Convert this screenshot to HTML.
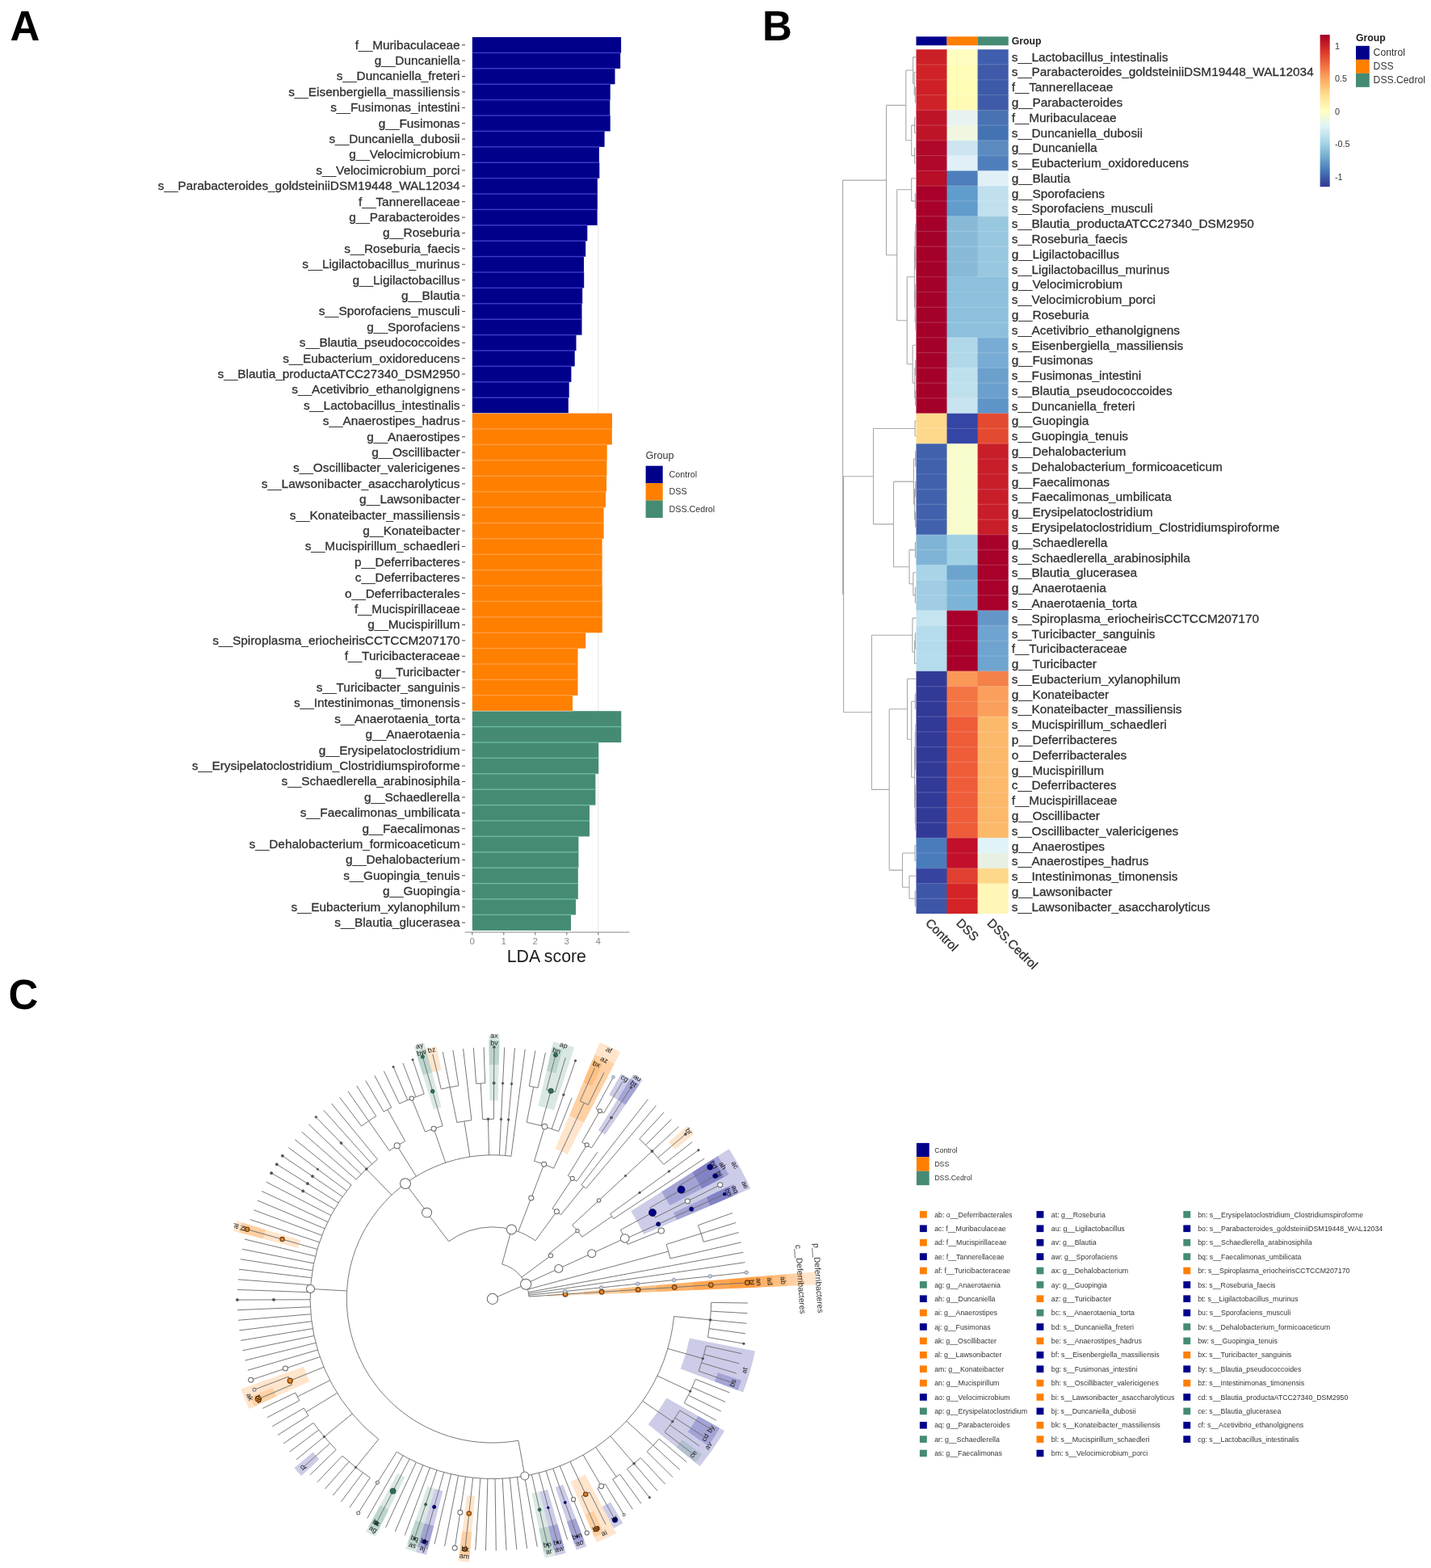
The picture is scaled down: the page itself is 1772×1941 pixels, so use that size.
<!DOCTYPE html>
<html><head><meta charset="utf-8"><title>Figure</title><style>
html,body{margin:0;padding:0;background:#fff;}
body{width:1772px;height:1941px;overflow:hidden;}
svg{display:block;}
#wrap{width:1772px;height:1941px;}
text{font-family:"Liberation Sans",Arial,sans-serif;}
.al{font-size:15.35px;fill:#303030;stroke:#303030;stroke-width:0.3px;}
.at{font-size:11.5px;fill:#8a8a8a;}
.atitle{font-size:21.3px;fill:#1a1a1a;}
.alegt{font-size:12.6px;fill:#333;}
.aleg{font-size:10.7px;fill:#333;}
.bgrp{font-size:12.2px;font-weight:bold;fill:#222;}
.bgrp2{font-size:12.3px;font-weight:bold;fill:#222;}
.bleg{font-size:10.8px;fill:#333;}
.bleg2{font-size:12.2px;fill:#333;}
.bcol{font-size:15.35px;fill:#303030;stroke:#303030;stroke-width:0.3px;}
.plet{font-size:51px;font-weight:bold;fill:#000;}
.cleg{font-size:8.8px;fill:#333;}
.clab{font-size:10.3px;fill:#333;}
.cnl{font-size:8.8px;fill:#151515;}
</style></head>
<body><div id="wrap"><svg xmlns="http://www.w3.org/2000/svg" width="1772" height="1941" viewBox="0 0 1772 1941">
<rect width="1772" height="1941" fill="#fff"/>
<g id="panelA">
<line x1="740.8" y1="44.0" x2="740.8" y2="1153" stroke="#e6e6e6" stroke-width="1"/>
<rect x="584.8" y="46.00" width="184.3" height="19.45" fill="#00008B"/>
<rect x="584.8" y="65.40" width="183.4" height="19.45" fill="#00008B"/>
<rect x="584.8" y="84.80" width="176.7" height="19.45" fill="#00008B"/>
<rect x="584.8" y="104.20" width="170.9" height="19.45" fill="#00008B"/>
<rect x="584.8" y="123.60" width="170.5" height="19.45" fill="#00008B"/>
<rect x="584.8" y="143.00" width="170.9" height="19.45" fill="#00008B"/>
<rect x="584.8" y="162.40" width="163.8" height="19.45" fill="#00008B"/>
<rect x="584.8" y="181.80" width="157.1" height="19.45" fill="#00008B"/>
<rect x="584.8" y="201.20" width="157.5" height="19.45" fill="#00008B"/>
<rect x="584.8" y="220.60" width="155.0" height="19.45" fill="#00008B"/>
<rect x="584.8" y="240.00" width="155.0" height="19.45" fill="#00008B"/>
<rect x="584.8" y="259.40" width="154.8" height="19.45" fill="#00008B"/>
<rect x="584.8" y="278.80" width="142.5" height="19.45" fill="#00008B"/>
<rect x="584.8" y="298.20" width="140.4" height="19.45" fill="#00008B"/>
<rect x="584.8" y="317.60" width="138.2" height="19.45" fill="#00008B"/>
<rect x="584.8" y="337.00" width="138.4" height="19.45" fill="#00008B"/>
<rect x="584.8" y="356.40" width="136.4" height="19.45" fill="#00008B"/>
<rect x="584.8" y="375.80" width="135.7" height="19.45" fill="#00008B"/>
<rect x="584.8" y="395.20" width="135.7" height="19.45" fill="#00008B"/>
<rect x="584.8" y="414.60" width="128.7" height="19.45" fill="#00008B"/>
<rect x="584.8" y="434.00" width="126.9" height="19.45" fill="#00008B"/>
<rect x="584.8" y="453.40" width="122.6" height="19.45" fill="#00008B"/>
<rect x="584.8" y="472.80" width="119.9" height="19.45" fill="#00008B"/>
<rect x="584.8" y="492.20" width="119.0" height="19.45" fill="#00008B"/>
<rect x="584.8" y="511.60" width="173.2" height="19.45" fill="#FF7F00"/>
<rect x="584.8" y="531.00" width="173.0" height="19.45" fill="#FF7F00"/>
<rect x="584.8" y="550.40" width="166.9" height="19.45" fill="#FF7F00"/>
<rect x="584.8" y="569.80" width="166.6" height="19.45" fill="#FF7F00"/>
<rect x="584.8" y="589.20" width="166.2" height="19.45" fill="#FF7F00"/>
<rect x="584.8" y="608.60" width="165.2" height="19.45" fill="#FF7F00"/>
<rect x="584.8" y="628.00" width="162.8" height="19.45" fill="#FF7F00"/>
<rect x="584.8" y="647.40" width="162.8" height="19.45" fill="#FF7F00"/>
<rect x="584.8" y="666.80" width="160.8" height="19.45" fill="#FF7F00"/>
<rect x="584.8" y="686.20" width="160.8" height="19.45" fill="#FF7F00"/>
<rect x="584.8" y="705.60" width="160.8" height="19.45" fill="#FF7F00"/>
<rect x="584.8" y="725.00" width="161.0" height="19.45" fill="#FF7F00"/>
<rect x="584.8" y="744.40" width="161.0" height="19.45" fill="#FF7F00"/>
<rect x="584.8" y="763.80" width="161.0" height="19.45" fill="#FF7F00"/>
<rect x="584.8" y="783.20" width="140.4" height="19.45" fill="#FF7F00"/>
<rect x="584.8" y="802.60" width="130.7" height="19.45" fill="#FF7F00"/>
<rect x="584.8" y="822.00" width="130.7" height="19.45" fill="#FF7F00"/>
<rect x="584.8" y="841.40" width="130.7" height="19.45" fill="#FF7F00"/>
<rect x="584.8" y="860.80" width="124.2" height="19.45" fill="#FF7F00"/>
<rect x="584.8" y="880.20" width="184.5" height="19.45" fill="#458B74"/>
<rect x="584.8" y="899.60" width="184.5" height="19.45" fill="#458B74"/>
<rect x="584.8" y="919.00" width="156.4" height="19.45" fill="#458B74"/>
<rect x="584.8" y="938.40" width="156.4" height="19.45" fill="#458B74"/>
<rect x="584.8" y="957.80" width="152.6" height="19.45" fill="#458B74"/>
<rect x="584.8" y="977.20" width="152.6" height="19.45" fill="#458B74"/>
<rect x="584.8" y="996.60" width="145.2" height="19.45" fill="#458B74"/>
<rect x="584.8" y="1016.00" width="145.2" height="19.45" fill="#458B74"/>
<rect x="584.8" y="1035.40" width="131.6" height="19.45" fill="#458B74"/>
<rect x="584.8" y="1054.80" width="131.6" height="19.45" fill="#458B74"/>
<rect x="584.8" y="1074.20" width="131.0" height="19.45" fill="#458B74"/>
<rect x="584.8" y="1093.60" width="131.0" height="19.45" fill="#458B74"/>
<rect x="584.8" y="1113.00" width="128.2" height="19.45" fill="#458B74"/>
<rect x="584.8" y="1132.40" width="122.2" height="19.45" fill="#458B74"/>
<rect x="584.8" y="64.70" width="183.4" height="1.4" fill="#3c3cc8"/>
<rect x="584.8" y="84.10" width="176.7" height="1.4" fill="#3c3cc8"/>
<rect x="584.8" y="103.50" width="170.9" height="1.4" fill="#3c3cc8"/>
<rect x="584.8" y="122.90" width="170.5" height="1.4" fill="#3c3cc8"/>
<rect x="584.8" y="142.30" width="170.5" height="1.4" fill="#3c3cc8"/>
<rect x="584.8" y="161.70" width="163.8" height="1.4" fill="#3c3cc8"/>
<rect x="584.8" y="181.10" width="157.1" height="1.4" fill="#3c3cc8"/>
<rect x="584.8" y="200.50" width="157.1" height="1.4" fill="#3c3cc8"/>
<rect x="584.8" y="219.90" width="155.0" height="1.4" fill="#3c3cc8"/>
<rect x="584.8" y="239.30" width="155.0" height="1.4" fill="#3c3cc8"/>
<rect x="584.8" y="258.70" width="154.8" height="1.4" fill="#3c3cc8"/>
<rect x="584.8" y="278.10" width="142.5" height="1.4" fill="#3c3cc8"/>
<rect x="584.8" y="297.50" width="140.4" height="1.4" fill="#3c3cc8"/>
<rect x="584.8" y="316.90" width="138.2" height="1.4" fill="#3c3cc8"/>
<rect x="584.8" y="336.30" width="138.2" height="1.4" fill="#3c3cc8"/>
<rect x="584.8" y="355.70" width="136.4" height="1.4" fill="#3c3cc8"/>
<rect x="584.8" y="375.10" width="135.7" height="1.4" fill="#3c3cc8"/>
<rect x="584.8" y="394.50" width="135.7" height="1.4" fill="#3c3cc8"/>
<rect x="584.8" y="413.90" width="128.7" height="1.4" fill="#3c3cc8"/>
<rect x="584.8" y="433.30" width="126.9" height="1.4" fill="#3c3cc8"/>
<rect x="584.8" y="452.70" width="122.6" height="1.4" fill="#3c3cc8"/>
<rect x="584.8" y="472.10" width="119.9" height="1.4" fill="#3c3cc8"/>
<rect x="584.8" y="491.50" width="119.0" height="1.4" fill="#3c3cc8"/>
<rect x="584.8" y="511.10" width="119.0" height="1.0" fill="#ffffff" fill-opacity="0.45"/>
<rect x="584.8" y="530.30" width="173.0" height="1.4" fill="#ff9c3c"/>
<rect x="584.8" y="549.70" width="166.9" height="1.4" fill="#ff9c3c"/>
<rect x="584.8" y="569.10" width="166.6" height="1.4" fill="#ff9c3c"/>
<rect x="584.8" y="588.50" width="166.2" height="1.4" fill="#ff9c3c"/>
<rect x="584.8" y="607.90" width="165.2" height="1.4" fill="#ff9c3c"/>
<rect x="584.8" y="627.30" width="162.8" height="1.4" fill="#ff9c3c"/>
<rect x="584.8" y="646.70" width="162.8" height="1.4" fill="#ff9c3c"/>
<rect x="584.8" y="666.10" width="160.8" height="1.4" fill="#ff9c3c"/>
<rect x="584.8" y="685.50" width="160.8" height="1.4" fill="#ff9c3c"/>
<rect x="584.8" y="704.90" width="160.8" height="1.4" fill="#ff9c3c"/>
<rect x="584.8" y="724.30" width="160.8" height="1.4" fill="#ff9c3c"/>
<rect x="584.8" y="743.70" width="161.0" height="1.4" fill="#ff9c3c"/>
<rect x="584.8" y="763.10" width="161.0" height="1.4" fill="#ff9c3c"/>
<rect x="584.8" y="782.50" width="140.4" height="1.4" fill="#ff9c3c"/>
<rect x="584.8" y="801.90" width="130.7" height="1.4" fill="#ff9c3c"/>
<rect x="584.8" y="821.30" width="130.7" height="1.4" fill="#ff9c3c"/>
<rect x="584.8" y="840.70" width="130.7" height="1.4" fill="#ff9c3c"/>
<rect x="584.8" y="860.10" width="124.2" height="1.4" fill="#ff9c3c"/>
<rect x="584.8" y="879.70" width="124.2" height="1.0" fill="#ffffff" fill-opacity="0.45"/>
<rect x="584.8" y="898.90" width="184.5" height="1.4" fill="#6cb8a0"/>
<rect x="584.8" y="918.30" width="156.4" height="1.4" fill="#6cb8a0"/>
<rect x="584.8" y="937.70" width="156.4" height="1.4" fill="#6cb8a0"/>
<rect x="584.8" y="957.10" width="152.6" height="1.4" fill="#6cb8a0"/>
<rect x="584.8" y="976.50" width="152.6" height="1.4" fill="#6cb8a0"/>
<rect x="584.8" y="995.90" width="145.2" height="1.4" fill="#6cb8a0"/>
<rect x="584.8" y="1015.30" width="145.2" height="1.4" fill="#6cb8a0"/>
<rect x="584.8" y="1034.70" width="131.6" height="1.4" fill="#6cb8a0"/>
<rect x="584.8" y="1054.10" width="131.6" height="1.4" fill="#6cb8a0"/>
<rect x="584.8" y="1073.50" width="131.0" height="1.4" fill="#6cb8a0"/>
<rect x="584.8" y="1092.90" width="131.0" height="1.4" fill="#6cb8a0"/>
<rect x="584.8" y="1112.30" width="128.2" height="1.4" fill="#6cb8a0"/>
<rect x="584.8" y="1131.70" width="122.2" height="1.4" fill="#6cb8a0"/>
<text x="569.5" y="60.50" text-anchor="end" class="al">f__Muribaculaceae</text>
<line x1="572" y1="55.70" x2="576" y2="55.70" stroke="#555" stroke-width="1.1"/>
<text x="569.5" y="79.90" text-anchor="end" class="al">g__Duncaniella</text>
<line x1="572" y1="75.10" x2="576" y2="75.10" stroke="#555" stroke-width="1.1"/>
<text x="569.5" y="99.30" text-anchor="end" class="al">s__Duncaniella_freteri</text>
<line x1="572" y1="94.50" x2="576" y2="94.50" stroke="#555" stroke-width="1.1"/>
<text x="569.5" y="118.70" text-anchor="end" class="al">s__Eisenbergiella_massiliensis</text>
<line x1="572" y1="113.90" x2="576" y2="113.90" stroke="#555" stroke-width="1.1"/>
<text x="569.5" y="138.10" text-anchor="end" class="al">s__Fusimonas_intestini</text>
<line x1="572" y1="133.30" x2="576" y2="133.30" stroke="#555" stroke-width="1.1"/>
<text x="569.5" y="157.50" text-anchor="end" class="al">g__Fusimonas</text>
<line x1="572" y1="152.70" x2="576" y2="152.70" stroke="#555" stroke-width="1.1"/>
<text x="569.5" y="176.90" text-anchor="end" class="al">s__Duncaniella_dubosii</text>
<line x1="572" y1="172.10" x2="576" y2="172.10" stroke="#555" stroke-width="1.1"/>
<text x="569.5" y="196.30" text-anchor="end" class="al">g__Velocimicrobium</text>
<line x1="572" y1="191.50" x2="576" y2="191.50" stroke="#555" stroke-width="1.1"/>
<text x="569.5" y="215.70" text-anchor="end" class="al">s__Velocimicrobium_porci</text>
<line x1="572" y1="210.90" x2="576" y2="210.90" stroke="#555" stroke-width="1.1"/>
<text x="569.5" y="235.10" text-anchor="end" class="al">s__Parabacteroides_goldsteiniiDSM19448_WAL12034</text>
<line x1="572" y1="230.30" x2="576" y2="230.30" stroke="#555" stroke-width="1.1"/>
<text x="569.5" y="254.50" text-anchor="end" class="al">f__Tannerellaceae</text>
<line x1="572" y1="249.70" x2="576" y2="249.70" stroke="#555" stroke-width="1.1"/>
<text x="569.5" y="273.90" text-anchor="end" class="al">g__Parabacteroides</text>
<line x1="572" y1="269.10" x2="576" y2="269.10" stroke="#555" stroke-width="1.1"/>
<text x="569.5" y="293.30" text-anchor="end" class="al">g__Roseburia</text>
<line x1="572" y1="288.50" x2="576" y2="288.50" stroke="#555" stroke-width="1.1"/>
<text x="569.5" y="312.70" text-anchor="end" class="al">s__Roseburia_faecis</text>
<line x1="572" y1="307.90" x2="576" y2="307.90" stroke="#555" stroke-width="1.1"/>
<text x="569.5" y="332.10" text-anchor="end" class="al">s__Ligilactobacillus_murinus</text>
<line x1="572" y1="327.30" x2="576" y2="327.30" stroke="#555" stroke-width="1.1"/>
<text x="569.5" y="351.50" text-anchor="end" class="al">g__Ligilactobacillus</text>
<line x1="572" y1="346.70" x2="576" y2="346.70" stroke="#555" stroke-width="1.1"/>
<text x="569.5" y="370.90" text-anchor="end" class="al">g__Blautia</text>
<line x1="572" y1="366.10" x2="576" y2="366.10" stroke="#555" stroke-width="1.1"/>
<text x="569.5" y="390.30" text-anchor="end" class="al">s__Sporofaciens_musculi</text>
<line x1="572" y1="385.50" x2="576" y2="385.50" stroke="#555" stroke-width="1.1"/>
<text x="569.5" y="409.70" text-anchor="end" class="al">g__Sporofaciens</text>
<line x1="572" y1="404.90" x2="576" y2="404.90" stroke="#555" stroke-width="1.1"/>
<text x="569.5" y="429.10" text-anchor="end" class="al">s__Blautia_pseudococcoides</text>
<line x1="572" y1="424.30" x2="576" y2="424.30" stroke="#555" stroke-width="1.1"/>
<text x="569.5" y="448.50" text-anchor="end" class="al">s__Eubacterium_oxidoreducens</text>
<line x1="572" y1="443.70" x2="576" y2="443.70" stroke="#555" stroke-width="1.1"/>
<text x="569.5" y="467.90" text-anchor="end" class="al">s__Blautia_productaATCC27340_DSM2950</text>
<line x1="572" y1="463.10" x2="576" y2="463.10" stroke="#555" stroke-width="1.1"/>
<text x="569.5" y="487.30" text-anchor="end" class="al">s__Acetivibrio_ethanolgignens</text>
<line x1="572" y1="482.50" x2="576" y2="482.50" stroke="#555" stroke-width="1.1"/>
<text x="569.5" y="506.70" text-anchor="end" class="al">s__Lactobacillus_intestinalis</text>
<line x1="572" y1="501.90" x2="576" y2="501.90" stroke="#555" stroke-width="1.1"/>
<text x="569.5" y="526.10" text-anchor="end" class="al">s__Anaerostipes_hadrus</text>
<line x1="572" y1="521.30" x2="576" y2="521.30" stroke="#555" stroke-width="1.1"/>
<text x="569.5" y="545.50" text-anchor="end" class="al">g__Anaerostipes</text>
<line x1="572" y1="540.70" x2="576" y2="540.70" stroke="#555" stroke-width="1.1"/>
<text x="569.5" y="564.90" text-anchor="end" class="al">g__Oscillibacter</text>
<line x1="572" y1="560.10" x2="576" y2="560.10" stroke="#555" stroke-width="1.1"/>
<text x="569.5" y="584.30" text-anchor="end" class="al">s__Oscillibacter_valericigenes</text>
<line x1="572" y1="579.50" x2="576" y2="579.50" stroke="#555" stroke-width="1.1"/>
<text x="569.5" y="603.70" text-anchor="end" class="al">s__Lawsonibacter_asaccharolyticus</text>
<line x1="572" y1="598.90" x2="576" y2="598.90" stroke="#555" stroke-width="1.1"/>
<text x="569.5" y="623.10" text-anchor="end" class="al">g__Lawsonibacter</text>
<line x1="572" y1="618.30" x2="576" y2="618.30" stroke="#555" stroke-width="1.1"/>
<text x="569.5" y="642.50" text-anchor="end" class="al">s__Konateibacter_massiliensis</text>
<line x1="572" y1="637.70" x2="576" y2="637.70" stroke="#555" stroke-width="1.1"/>
<text x="569.5" y="661.90" text-anchor="end" class="al">g__Konateibacter</text>
<line x1="572" y1="657.10" x2="576" y2="657.10" stroke="#555" stroke-width="1.1"/>
<text x="569.5" y="681.30" text-anchor="end" class="al">s__Mucispirillum_schaedleri</text>
<line x1="572" y1="676.50" x2="576" y2="676.50" stroke="#555" stroke-width="1.1"/>
<text x="569.5" y="700.70" text-anchor="end" class="al">p__Deferribacteres</text>
<line x1="572" y1="695.90" x2="576" y2="695.90" stroke="#555" stroke-width="1.1"/>
<text x="569.5" y="720.10" text-anchor="end" class="al">c__Deferribacteres</text>
<line x1="572" y1="715.30" x2="576" y2="715.30" stroke="#555" stroke-width="1.1"/>
<text x="569.5" y="739.50" text-anchor="end" class="al">o__Deferribacterales</text>
<line x1="572" y1="734.70" x2="576" y2="734.70" stroke="#555" stroke-width="1.1"/>
<text x="569.5" y="758.90" text-anchor="end" class="al">f__Mucispirillaceae</text>
<line x1="572" y1="754.10" x2="576" y2="754.10" stroke="#555" stroke-width="1.1"/>
<text x="569.5" y="778.30" text-anchor="end" class="al">g__Mucispirillum</text>
<line x1="572" y1="773.50" x2="576" y2="773.50" stroke="#555" stroke-width="1.1"/>
<text x="569.5" y="797.70" text-anchor="end" class="al">s__Spiroplasma_eriocheirisCCTCCM207170</text>
<line x1="572" y1="792.90" x2="576" y2="792.90" stroke="#555" stroke-width="1.1"/>
<text x="569.5" y="817.10" text-anchor="end" class="al">f__Turicibacteraceae</text>
<line x1="572" y1="812.30" x2="576" y2="812.30" stroke="#555" stroke-width="1.1"/>
<text x="569.5" y="836.50" text-anchor="end" class="al">g__Turicibacter</text>
<line x1="572" y1="831.70" x2="576" y2="831.70" stroke="#555" stroke-width="1.1"/>
<text x="569.5" y="855.90" text-anchor="end" class="al">s__Turicibacter_sanguinis</text>
<line x1="572" y1="851.10" x2="576" y2="851.10" stroke="#555" stroke-width="1.1"/>
<text x="569.5" y="875.30" text-anchor="end" class="al">s__Intestinimonas_timonensis</text>
<line x1="572" y1="870.50" x2="576" y2="870.50" stroke="#555" stroke-width="1.1"/>
<text x="569.5" y="894.70" text-anchor="end" class="al">s__Anaerotaenia_torta</text>
<line x1="572" y1="889.90" x2="576" y2="889.90" stroke="#555" stroke-width="1.1"/>
<text x="569.5" y="914.10" text-anchor="end" class="al">g__Anaerotaenia</text>
<line x1="572" y1="909.30" x2="576" y2="909.30" stroke="#555" stroke-width="1.1"/>
<text x="569.5" y="933.50" text-anchor="end" class="al">g__Erysipelatoclostridium</text>
<line x1="572" y1="928.70" x2="576" y2="928.70" stroke="#555" stroke-width="1.1"/>
<text x="569.5" y="952.90" text-anchor="end" class="al">s__Erysipelatoclostridium_Clostridiumspiroforme</text>
<line x1="572" y1="948.10" x2="576" y2="948.10" stroke="#555" stroke-width="1.1"/>
<text x="569.5" y="972.30" text-anchor="end" class="al">s__Schaedlerella_arabinosiphila</text>
<line x1="572" y1="967.50" x2="576" y2="967.50" stroke="#555" stroke-width="1.1"/>
<text x="569.5" y="991.70" text-anchor="end" class="al">g__Schaedlerella</text>
<line x1="572" y1="986.90" x2="576" y2="986.90" stroke="#555" stroke-width="1.1"/>
<text x="569.5" y="1011.10" text-anchor="end" class="al">s__Faecalimonas_umbilicata</text>
<line x1="572" y1="1006.30" x2="576" y2="1006.30" stroke="#555" stroke-width="1.1"/>
<text x="569.5" y="1030.50" text-anchor="end" class="al">g__Faecalimonas</text>
<line x1="572" y1="1025.70" x2="576" y2="1025.70" stroke="#555" stroke-width="1.1"/>
<text x="569.5" y="1049.90" text-anchor="end" class="al">s__Dehalobacterium_formicoaceticum</text>
<line x1="572" y1="1045.10" x2="576" y2="1045.10" stroke="#555" stroke-width="1.1"/>
<text x="569.5" y="1069.30" text-anchor="end" class="al">g__Dehalobacterium</text>
<line x1="572" y1="1064.50" x2="576" y2="1064.50" stroke="#555" stroke-width="1.1"/>
<text x="569.5" y="1088.70" text-anchor="end" class="al">s__Guopingia_tenuis</text>
<line x1="572" y1="1083.90" x2="576" y2="1083.90" stroke="#555" stroke-width="1.1"/>
<text x="569.5" y="1108.10" text-anchor="end" class="al">g__Guopingia</text>
<line x1="572" y1="1103.30" x2="576" y2="1103.30" stroke="#555" stroke-width="1.1"/>
<text x="569.5" y="1127.50" text-anchor="end" class="al">s__Eubacterium_xylanophilum</text>
<line x1="572" y1="1122.70" x2="576" y2="1122.70" stroke="#555" stroke-width="1.1"/>
<text x="569.5" y="1146.90" text-anchor="end" class="al">s__Blautia_glucerasea</text>
<line x1="572" y1="1142.10" x2="576" y2="1142.10" stroke="#555" stroke-width="1.1"/>
<line x1="575.6" y1="1154" x2="779.5" y2="1154" stroke="#888" stroke-width="1.1"/>
<line x1="584.8" y1="1154" x2="584.8" y2="1157.5" stroke="#777" stroke-width="1.1"/>
<text x="584.8" y="1168.8" text-anchor="middle" class="at">0</text>
<line x1="623.8" y1="1154" x2="623.8" y2="1157.5" stroke="#777" stroke-width="1.1"/>
<text x="623.8" y="1168.8" text-anchor="middle" class="at">1</text>
<line x1="662.8" y1="1154" x2="662.8" y2="1157.5" stroke="#777" stroke-width="1.1"/>
<text x="662.8" y="1168.8" text-anchor="middle" class="at">2</text>
<line x1="701.8" y1="1154" x2="701.8" y2="1157.5" stroke="#777" stroke-width="1.1"/>
<text x="701.8" y="1168.8" text-anchor="middle" class="at">3</text>
<line x1="740.8" y1="1154" x2="740.8" y2="1157.5" stroke="#777" stroke-width="1.1"/>
<text x="740.8" y="1168.8" text-anchor="middle" class="at">4</text>
<text x="676.8" y="1190.5" text-anchor="middle" class="atitle">LDA score</text>
<text x="799.4" y="567.7" class="alegt">Group</text>
<rect x="799.6" y="576.7" width="21.1" height="21.5" fill="#00008B"/>
<text x="828.6" y="590.7" class="aleg">Control</text>
<rect x="799.6" y="598.1" width="21.1" height="21.5" fill="#FF7F00"/>
<text x="828.6" y="612.1" class="aleg">DSS</text>
<rect x="799.6" y="619.5" width="21.1" height="21.5" fill="#458B74"/>
<text x="828.6" y="633.5" class="aleg">DSS.Cedrol</text>
</g>
<g id="panelB">
<rect x="1134.5" y="45.3" width="38.05" height="10.9" fill="#00008B"/>
<rect x="1172.5" y="45.3" width="38.15" height="10.9" fill="#FF7F00"/>
<rect x="1210.6" y="45.3" width="38.15" height="10.9" fill="#458B74"/>
<text x="1252.8" y="55.0" class="bgrp">Group</text>
<rect x="1134.5" y="61.20" width="38.70" height="19.47" fill="#CC2027"/>
<rect x="1172.5" y="61.20" width="38.80" height="19.47" fill="#FFFDC0"/>
<rect x="1210.6" y="61.20" width="38.10" height="19.47" fill="#3F5FAE"/>
<rect x="1134.5" y="79.97" width="38.70" height="19.47" fill="#D02226"/>
<rect x="1172.5" y="79.97" width="38.80" height="19.47" fill="#FFFCB8"/>
<rect x="1210.6" y="79.97" width="38.10" height="19.47" fill="#3E5AA8"/>
<rect x="1134.5" y="98.74" width="38.70" height="19.47" fill="#CE2026"/>
<rect x="1172.5" y="98.74" width="38.80" height="19.47" fill="#FFFCB5"/>
<rect x="1210.6" y="98.74" width="38.10" height="19.47" fill="#3C5AA8"/>
<rect x="1134.5" y="117.51" width="38.70" height="19.47" fill="#CE2228"/>
<rect x="1172.5" y="117.51" width="38.80" height="19.47" fill="#FFFBB5"/>
<rect x="1210.6" y="117.51" width="38.10" height="19.47" fill="#3F5AA8"/>
<rect x="1134.5" y="136.28" width="38.70" height="19.47" fill="#BE1428"/>
<rect x="1172.5" y="136.28" width="38.80" height="19.47" fill="#E8F2F0"/>
<rect x="1210.6" y="136.28" width="38.10" height="19.47" fill="#4872B2"/>
<rect x="1134.5" y="155.05" width="38.70" height="19.47" fill="#BE1428"/>
<rect x="1172.5" y="155.05" width="38.80" height="19.47" fill="#F0F6E0"/>
<rect x="1210.6" y="155.05" width="38.10" height="19.47" fill="#4473B4"/>
<rect x="1134.5" y="173.82" width="38.70" height="19.47" fill="#B0082A"/>
<rect x="1172.5" y="173.82" width="38.80" height="19.47" fill="#CDE5F0"/>
<rect x="1210.6" y="173.82" width="38.10" height="19.47" fill="#5A8AC0"/>
<rect x="1134.5" y="192.59" width="38.70" height="19.47" fill="#B0082A"/>
<rect x="1172.5" y="192.59" width="38.80" height="19.47" fill="#E0F0F6"/>
<rect x="1210.6" y="192.59" width="38.10" height="19.47" fill="#4F7EBC"/>
<rect x="1134.5" y="211.36" width="38.70" height="19.47" fill="#B80E28"/>
<rect x="1172.5" y="211.36" width="38.80" height="19.47" fill="#4E7FBC"/>
<rect x="1210.6" y="211.36" width="38.10" height="19.47" fill="#E0F0F6"/>
<rect x="1134.5" y="230.13" width="38.70" height="19.47" fill="#A8002A"/>
<rect x="1172.5" y="230.13" width="38.80" height="19.47" fill="#609CCC"/>
<rect x="1210.6" y="230.13" width="38.10" height="19.47" fill="#C0E0EE"/>
<rect x="1134.5" y="248.90" width="38.70" height="19.47" fill="#A8002A"/>
<rect x="1172.5" y="248.90" width="38.80" height="19.47" fill="#609CCC"/>
<rect x="1210.6" y="248.90" width="38.10" height="19.47" fill="#C0E0EE"/>
<rect x="1134.5" y="267.67" width="38.70" height="19.47" fill="#A5002A"/>
<rect x="1172.5" y="267.67" width="38.80" height="19.47" fill="#88BAD8"/>
<rect x="1210.6" y="267.67" width="38.10" height="19.47" fill="#98C8E0"/>
<rect x="1134.5" y="286.44" width="38.70" height="19.47" fill="#A5002A"/>
<rect x="1172.5" y="286.44" width="38.80" height="19.47" fill="#88BAD8"/>
<rect x="1210.6" y="286.44" width="38.10" height="19.47" fill="#98C8E0"/>
<rect x="1134.5" y="305.21" width="38.70" height="19.47" fill="#A5002A"/>
<rect x="1172.5" y="305.21" width="38.80" height="19.47" fill="#88BAD8"/>
<rect x="1210.6" y="305.21" width="38.10" height="19.47" fill="#98C8E0"/>
<rect x="1134.5" y="323.98" width="38.70" height="19.47" fill="#A5002A"/>
<rect x="1172.5" y="323.98" width="38.80" height="19.47" fill="#88BAD8"/>
<rect x="1210.6" y="323.98" width="38.10" height="19.47" fill="#98C8E0"/>
<rect x="1134.5" y="342.75" width="38.70" height="19.47" fill="#A5002A"/>
<rect x="1172.5" y="342.75" width="38.80" height="19.47" fill="#8CC0DC"/>
<rect x="1210.6" y="342.75" width="38.10" height="19.47" fill="#8CC0DC"/>
<rect x="1134.5" y="361.52" width="38.70" height="19.47" fill="#A5002A"/>
<rect x="1172.5" y="361.52" width="38.80" height="19.47" fill="#8CC0DC"/>
<rect x="1210.6" y="361.52" width="38.10" height="19.47" fill="#8CC0DC"/>
<rect x="1134.5" y="380.29" width="38.70" height="19.47" fill="#A5002A"/>
<rect x="1172.5" y="380.29" width="38.80" height="19.47" fill="#8CC0DC"/>
<rect x="1210.6" y="380.29" width="38.10" height="19.47" fill="#8CC0DC"/>
<rect x="1134.5" y="399.06" width="38.70" height="19.47" fill="#A5002A"/>
<rect x="1172.5" y="399.06" width="38.80" height="19.47" fill="#8CC0DC"/>
<rect x="1210.6" y="399.06" width="38.10" height="19.47" fill="#8CC0DC"/>
<rect x="1134.5" y="417.83" width="38.70" height="19.47" fill="#A5002A"/>
<rect x="1172.5" y="417.83" width="38.80" height="19.47" fill="#B0D8E8"/>
<rect x="1210.6" y="417.83" width="38.10" height="19.47" fill="#78ACD4"/>
<rect x="1134.5" y="436.60" width="38.70" height="19.47" fill="#A5002A"/>
<rect x="1172.5" y="436.60" width="38.80" height="19.47" fill="#B0D8E8"/>
<rect x="1210.6" y="436.60" width="38.10" height="19.47" fill="#78ACD4"/>
<rect x="1134.5" y="455.37" width="38.70" height="19.47" fill="#A5002A"/>
<rect x="1172.5" y="455.37" width="38.80" height="19.47" fill="#BEE0EC"/>
<rect x="1210.6" y="455.37" width="38.10" height="19.47" fill="#6CA0CC"/>
<rect x="1134.5" y="474.14" width="38.70" height="19.47" fill="#A5002A"/>
<rect x="1172.5" y="474.14" width="38.80" height="19.47" fill="#BEE0EC"/>
<rect x="1210.6" y="474.14" width="38.10" height="19.47" fill="#6CA0CC"/>
<rect x="1134.5" y="492.91" width="38.70" height="19.47" fill="#A5002A"/>
<rect x="1172.5" y="492.91" width="38.80" height="19.47" fill="#C8E4F0"/>
<rect x="1210.6" y="492.91" width="38.10" height="19.47" fill="#5F94C8"/>
<rect x="1134.5" y="511.68" width="38.70" height="19.47" fill="#FED98C"/>
<rect x="1172.5" y="511.68" width="38.80" height="19.47" fill="#3545A5"/>
<rect x="1210.6" y="511.68" width="38.10" height="19.47" fill="#E44A30"/>
<rect x="1134.5" y="530.45" width="38.70" height="19.47" fill="#FED98C"/>
<rect x="1172.5" y="530.45" width="38.80" height="19.47" fill="#3545A5"/>
<rect x="1210.6" y="530.45" width="38.10" height="19.47" fill="#E44A30"/>
<rect x="1134.5" y="549.22" width="38.70" height="19.47" fill="#4161AC"/>
<rect x="1172.5" y="549.22" width="38.80" height="19.47" fill="#F8FBCC"/>
<rect x="1210.6" y="549.22" width="38.10" height="19.47" fill="#C81E2A"/>
<rect x="1134.5" y="567.99" width="38.70" height="19.47" fill="#4161AC"/>
<rect x="1172.5" y="567.99" width="38.80" height="19.47" fill="#F8FBCC"/>
<rect x="1210.6" y="567.99" width="38.10" height="19.47" fill="#C81E2A"/>
<rect x="1134.5" y="586.76" width="38.70" height="19.47" fill="#4161AC"/>
<rect x="1172.5" y="586.76" width="38.80" height="19.47" fill="#F8FBCC"/>
<rect x="1210.6" y="586.76" width="38.10" height="19.47" fill="#C81E2A"/>
<rect x="1134.5" y="605.53" width="38.70" height="19.47" fill="#4161AC"/>
<rect x="1172.5" y="605.53" width="38.80" height="19.47" fill="#F8FBCC"/>
<rect x="1210.6" y="605.53" width="38.10" height="19.47" fill="#C81E2A"/>
<rect x="1134.5" y="624.30" width="38.70" height="19.47" fill="#4161AC"/>
<rect x="1172.5" y="624.30" width="38.80" height="19.47" fill="#F8FBCC"/>
<rect x="1210.6" y="624.30" width="38.10" height="19.47" fill="#C81E2A"/>
<rect x="1134.5" y="643.07" width="38.70" height="19.47" fill="#4161AC"/>
<rect x="1172.5" y="643.07" width="38.80" height="19.47" fill="#F8FBCC"/>
<rect x="1210.6" y="643.07" width="38.10" height="19.47" fill="#C81E2A"/>
<rect x="1134.5" y="661.84" width="38.70" height="19.47" fill="#80B4D6"/>
<rect x="1172.5" y="661.84" width="38.80" height="19.47" fill="#A0D0E4"/>
<rect x="1210.6" y="661.84" width="38.10" height="19.47" fill="#A8022A"/>
<rect x="1134.5" y="680.61" width="38.70" height="19.47" fill="#80B4D6"/>
<rect x="1172.5" y="680.61" width="38.80" height="19.47" fill="#A0D0E4"/>
<rect x="1210.6" y="680.61" width="38.10" height="19.47" fill="#A8022A"/>
<rect x="1134.5" y="699.38" width="38.70" height="19.47" fill="#A8D4E8"/>
<rect x="1172.5" y="699.38" width="38.80" height="19.47" fill="#6CA4CE"/>
<rect x="1210.6" y="699.38" width="38.10" height="19.47" fill="#A8002A"/>
<rect x="1134.5" y="718.15" width="38.70" height="19.47" fill="#A0CCE4"/>
<rect x="1172.5" y="718.15" width="38.80" height="19.47" fill="#7CB4D8"/>
<rect x="1210.6" y="718.15" width="38.10" height="19.47" fill="#A8002A"/>
<rect x="1134.5" y="736.92" width="38.70" height="19.47" fill="#A0CCE4"/>
<rect x="1172.5" y="736.92" width="38.80" height="19.47" fill="#7CB4D8"/>
<rect x="1210.6" y="736.92" width="38.10" height="19.47" fill="#A8002A"/>
<rect x="1134.5" y="755.69" width="38.70" height="19.47" fill="#C4E4F0"/>
<rect x="1172.5" y="755.69" width="38.80" height="19.47" fill="#A8002A"/>
<rect x="1210.6" y="755.69" width="38.10" height="19.47" fill="#6496C8"/>
<rect x="1134.5" y="774.46" width="38.70" height="19.47" fill="#B4DCEC"/>
<rect x="1172.5" y="774.46" width="38.80" height="19.47" fill="#A8002A"/>
<rect x="1210.6" y="774.46" width="38.10" height="19.47" fill="#70A4D0"/>
<rect x="1134.5" y="793.23" width="38.70" height="19.47" fill="#B4DCEC"/>
<rect x="1172.5" y="793.23" width="38.80" height="19.47" fill="#A8002A"/>
<rect x="1210.6" y="793.23" width="38.10" height="19.47" fill="#70A4D0"/>
<rect x="1134.5" y="812.00" width="38.70" height="19.47" fill="#B4DCEC"/>
<rect x="1172.5" y="812.00" width="38.80" height="19.47" fill="#A8002A"/>
<rect x="1210.6" y="812.00" width="38.10" height="19.47" fill="#70A4D0"/>
<rect x="1134.5" y="830.77" width="38.70" height="19.47" fill="#323A98"/>
<rect x="1172.5" y="830.77" width="38.80" height="19.47" fill="#FA9858"/>
<rect x="1210.6" y="830.77" width="38.10" height="19.47" fill="#F4804A"/>
<rect x="1134.5" y="849.54" width="38.70" height="19.47" fill="#323A98"/>
<rect x="1172.5" y="849.54" width="38.80" height="19.47" fill="#F47444"/>
<rect x="1210.6" y="849.54" width="38.10" height="19.47" fill="#FAA05C"/>
<rect x="1134.5" y="868.31" width="38.70" height="19.47" fill="#323A98"/>
<rect x="1172.5" y="868.31" width="38.80" height="19.47" fill="#F47444"/>
<rect x="1210.6" y="868.31" width="38.10" height="19.47" fill="#FAA05C"/>
<rect x="1134.5" y="887.08" width="38.70" height="19.47" fill="#323A98"/>
<rect x="1172.5" y="887.08" width="38.80" height="19.47" fill="#EE5C3A"/>
<rect x="1210.6" y="887.08" width="38.10" height="19.47" fill="#FDB96A"/>
<rect x="1134.5" y="905.85" width="38.70" height="19.47" fill="#323A98"/>
<rect x="1172.5" y="905.85" width="38.80" height="19.47" fill="#EE5C3A"/>
<rect x="1210.6" y="905.85" width="38.10" height="19.47" fill="#FDB96A"/>
<rect x="1134.5" y="924.62" width="38.70" height="19.47" fill="#323A98"/>
<rect x="1172.5" y="924.62" width="38.80" height="19.47" fill="#EE5C3A"/>
<rect x="1210.6" y="924.62" width="38.10" height="19.47" fill="#FDB96A"/>
<rect x="1134.5" y="943.39" width="38.70" height="19.47" fill="#323A98"/>
<rect x="1172.5" y="943.39" width="38.80" height="19.47" fill="#EE5C3A"/>
<rect x="1210.6" y="943.39" width="38.10" height="19.47" fill="#FDB96A"/>
<rect x="1134.5" y="962.16" width="38.70" height="19.47" fill="#323A98"/>
<rect x="1172.5" y="962.16" width="38.80" height="19.47" fill="#EE5C3A"/>
<rect x="1210.6" y="962.16" width="38.10" height="19.47" fill="#FDB96A"/>
<rect x="1134.5" y="980.93" width="38.70" height="19.47" fill="#323A98"/>
<rect x="1172.5" y="980.93" width="38.80" height="19.47" fill="#EE5C3A"/>
<rect x="1210.6" y="980.93" width="38.10" height="19.47" fill="#FDB96A"/>
<rect x="1134.5" y="999.70" width="38.70" height="19.47" fill="#323A98"/>
<rect x="1172.5" y="999.70" width="38.80" height="19.47" fill="#EE5C3A"/>
<rect x="1210.6" y="999.70" width="38.10" height="19.47" fill="#FDB96A"/>
<rect x="1134.5" y="1018.47" width="38.70" height="19.47" fill="#323A98"/>
<rect x="1172.5" y="1018.47" width="38.80" height="19.47" fill="#EE5C3A"/>
<rect x="1210.6" y="1018.47" width="38.10" height="19.47" fill="#FDB96A"/>
<rect x="1134.5" y="1037.24" width="38.70" height="19.47" fill="#4A7CBC"/>
<rect x="1172.5" y="1037.24" width="38.80" height="19.47" fill="#C2102A"/>
<rect x="1210.6" y="1037.24" width="38.10" height="19.47" fill="#E0F4F8"/>
<rect x="1134.5" y="1056.01" width="38.70" height="19.47" fill="#4A7CBC"/>
<rect x="1172.5" y="1056.01" width="38.80" height="19.47" fill="#C2102A"/>
<rect x="1210.6" y="1056.01" width="38.10" height="19.47" fill="#E8F0E4"/>
<rect x="1134.5" y="1074.78" width="38.70" height="19.47" fill="#3644A0"/>
<rect x="1172.5" y="1074.78" width="38.80" height="19.47" fill="#E04030"/>
<rect x="1210.6" y="1074.78" width="38.10" height="19.47" fill="#FDD888"/>
<rect x="1134.5" y="1093.55" width="38.70" height="19.47" fill="#3E56A8"/>
<rect x="1172.5" y="1093.55" width="38.80" height="19.47" fill="#D42428"/>
<rect x="1210.6" y="1093.55" width="38.10" height="19.47" fill="#FFF6B8"/>
<rect x="1134.5" y="1112.32" width="38.70" height="18.77" fill="#3E56A8"/>
<rect x="1172.5" y="1112.32" width="38.80" height="18.77" fill="#D42428"/>
<rect x="1210.6" y="1112.32" width="38.10" height="18.77" fill="#FFF6B8"/>
<line x1="1134.5" y1="79.97" x2="1248.7" y2="79.97" stroke="#ffffff" stroke-opacity="0.16" stroke-width="1.2"/>
<line x1="1134.5" y1="98.74" x2="1248.7" y2="98.74" stroke="#ffffff" stroke-opacity="0.16" stroke-width="1.2"/>
<line x1="1134.5" y1="117.51" x2="1248.7" y2="117.51" stroke="#ffffff" stroke-opacity="0.16" stroke-width="1.2"/>
<line x1="1134.5" y1="136.28" x2="1248.7" y2="136.28" stroke="#ffffff" stroke-opacity="0.16" stroke-width="1.2"/>
<line x1="1134.5" y1="155.05" x2="1248.7" y2="155.05" stroke="#ffffff" stroke-opacity="0.16" stroke-width="1.2"/>
<line x1="1134.5" y1="173.82" x2="1248.7" y2="173.82" stroke="#ffffff" stroke-opacity="0.16" stroke-width="1.2"/>
<line x1="1134.5" y1="192.59" x2="1248.7" y2="192.59" stroke="#ffffff" stroke-opacity="0.16" stroke-width="1.2"/>
<line x1="1134.5" y1="211.36" x2="1248.7" y2="211.36" stroke="#ffffff" stroke-opacity="0.16" stroke-width="1.2"/>
<line x1="1134.5" y1="230.13" x2="1248.7" y2="230.13" stroke="#ffffff" stroke-opacity="0.16" stroke-width="1.2"/>
<line x1="1134.5" y1="248.90" x2="1248.7" y2="248.90" stroke="#ffffff" stroke-opacity="0.16" stroke-width="1.2"/>
<line x1="1134.5" y1="267.67" x2="1248.7" y2="267.67" stroke="#ffffff" stroke-opacity="0.16" stroke-width="1.2"/>
<line x1="1134.5" y1="286.44" x2="1248.7" y2="286.44" stroke="#ffffff" stroke-opacity="0.16" stroke-width="1.2"/>
<line x1="1134.5" y1="305.21" x2="1248.7" y2="305.21" stroke="#ffffff" stroke-opacity="0.16" stroke-width="1.2"/>
<line x1="1134.5" y1="323.98" x2="1248.7" y2="323.98" stroke="#ffffff" stroke-opacity="0.16" stroke-width="1.2"/>
<line x1="1134.5" y1="342.75" x2="1248.7" y2="342.75" stroke="#ffffff" stroke-opacity="0.16" stroke-width="1.2"/>
<line x1="1134.5" y1="361.52" x2="1248.7" y2="361.52" stroke="#ffffff" stroke-opacity="0.16" stroke-width="1.2"/>
<line x1="1134.5" y1="380.29" x2="1248.7" y2="380.29" stroke="#ffffff" stroke-opacity="0.16" stroke-width="1.2"/>
<line x1="1134.5" y1="399.06" x2="1248.7" y2="399.06" stroke="#ffffff" stroke-opacity="0.16" stroke-width="1.2"/>
<line x1="1134.5" y1="417.83" x2="1248.7" y2="417.83" stroke="#ffffff" stroke-opacity="0.16" stroke-width="1.2"/>
<line x1="1134.5" y1="436.60" x2="1248.7" y2="436.60" stroke="#ffffff" stroke-opacity="0.16" stroke-width="1.2"/>
<line x1="1134.5" y1="455.37" x2="1248.7" y2="455.37" stroke="#ffffff" stroke-opacity="0.16" stroke-width="1.2"/>
<line x1="1134.5" y1="474.14" x2="1248.7" y2="474.14" stroke="#ffffff" stroke-opacity="0.16" stroke-width="1.2"/>
<line x1="1134.5" y1="492.91" x2="1248.7" y2="492.91" stroke="#ffffff" stroke-opacity="0.16" stroke-width="1.2"/>
<line x1="1134.5" y1="511.68" x2="1248.7" y2="511.68" stroke="#ffffff" stroke-opacity="0.16" stroke-width="1.2"/>
<line x1="1134.5" y1="530.45" x2="1248.7" y2="530.45" stroke="#ffffff" stroke-opacity="0.16" stroke-width="1.2"/>
<line x1="1134.5" y1="549.22" x2="1248.7" y2="549.22" stroke="#ffffff" stroke-opacity="0.16" stroke-width="1.2"/>
<line x1="1134.5" y1="567.99" x2="1248.7" y2="567.99" stroke="#ffffff" stroke-opacity="0.16" stroke-width="1.2"/>
<line x1="1134.5" y1="586.76" x2="1248.7" y2="586.76" stroke="#ffffff" stroke-opacity="0.16" stroke-width="1.2"/>
<line x1="1134.5" y1="605.53" x2="1248.7" y2="605.53" stroke="#ffffff" stroke-opacity="0.16" stroke-width="1.2"/>
<line x1="1134.5" y1="624.30" x2="1248.7" y2="624.30" stroke="#ffffff" stroke-opacity="0.16" stroke-width="1.2"/>
<line x1="1134.5" y1="643.07" x2="1248.7" y2="643.07" stroke="#ffffff" stroke-opacity="0.16" stroke-width="1.2"/>
<line x1="1134.5" y1="661.84" x2="1248.7" y2="661.84" stroke="#ffffff" stroke-opacity="0.16" stroke-width="1.2"/>
<line x1="1134.5" y1="680.61" x2="1248.7" y2="680.61" stroke="#ffffff" stroke-opacity="0.16" stroke-width="1.2"/>
<line x1="1134.5" y1="699.38" x2="1248.7" y2="699.38" stroke="#ffffff" stroke-opacity="0.16" stroke-width="1.2"/>
<line x1="1134.5" y1="718.15" x2="1248.7" y2="718.15" stroke="#ffffff" stroke-opacity="0.16" stroke-width="1.2"/>
<line x1="1134.5" y1="736.92" x2="1248.7" y2="736.92" stroke="#ffffff" stroke-opacity="0.16" stroke-width="1.2"/>
<line x1="1134.5" y1="755.69" x2="1248.7" y2="755.69" stroke="#ffffff" stroke-opacity="0.16" stroke-width="1.2"/>
<line x1="1134.5" y1="774.46" x2="1248.7" y2="774.46" stroke="#ffffff" stroke-opacity="0.16" stroke-width="1.2"/>
<line x1="1134.5" y1="793.23" x2="1248.7" y2="793.23" stroke="#ffffff" stroke-opacity="0.16" stroke-width="1.2"/>
<line x1="1134.5" y1="812.00" x2="1248.7" y2="812.00" stroke="#ffffff" stroke-opacity="0.16" stroke-width="1.2"/>
<line x1="1134.5" y1="830.77" x2="1248.7" y2="830.77" stroke="#ffffff" stroke-opacity="0.16" stroke-width="1.2"/>
<line x1="1134.5" y1="849.54" x2="1248.7" y2="849.54" stroke="#ffffff" stroke-opacity="0.16" stroke-width="1.2"/>
<line x1="1134.5" y1="868.31" x2="1248.7" y2="868.31" stroke="#ffffff" stroke-opacity="0.16" stroke-width="1.2"/>
<line x1="1134.5" y1="887.08" x2="1248.7" y2="887.08" stroke="#ffffff" stroke-opacity="0.16" stroke-width="1.2"/>
<line x1="1134.5" y1="905.85" x2="1248.7" y2="905.85" stroke="#ffffff" stroke-opacity="0.16" stroke-width="1.2"/>
<line x1="1134.5" y1="924.62" x2="1248.7" y2="924.62" stroke="#ffffff" stroke-opacity="0.16" stroke-width="1.2"/>
<line x1="1134.5" y1="943.39" x2="1248.7" y2="943.39" stroke="#ffffff" stroke-opacity="0.16" stroke-width="1.2"/>
<line x1="1134.5" y1="962.16" x2="1248.7" y2="962.16" stroke="#ffffff" stroke-opacity="0.16" stroke-width="1.2"/>
<line x1="1134.5" y1="980.93" x2="1248.7" y2="980.93" stroke="#ffffff" stroke-opacity="0.16" stroke-width="1.2"/>
<line x1="1134.5" y1="999.70" x2="1248.7" y2="999.70" stroke="#ffffff" stroke-opacity="0.16" stroke-width="1.2"/>
<line x1="1134.5" y1="1018.47" x2="1248.7" y2="1018.47" stroke="#ffffff" stroke-opacity="0.16" stroke-width="1.2"/>
<line x1="1134.5" y1="1037.24" x2="1248.7" y2="1037.24" stroke="#ffffff" stroke-opacity="0.16" stroke-width="1.2"/>
<line x1="1134.5" y1="1056.01" x2="1248.7" y2="1056.01" stroke="#ffffff" stroke-opacity="0.16" stroke-width="1.2"/>
<line x1="1134.5" y1="1074.78" x2="1248.7" y2="1074.78" stroke="#ffffff" stroke-opacity="0.16" stroke-width="1.2"/>
<line x1="1134.5" y1="1093.55" x2="1248.7" y2="1093.55" stroke="#ffffff" stroke-opacity="0.16" stroke-width="1.2"/>
<line x1="1134.5" y1="1112.32" x2="1248.7" y2="1112.32" stroke="#ffffff" stroke-opacity="0.16" stroke-width="1.2"/>
<text x="1252.8" y="75.59" class="al">s__Lactobacillus_intestinalis</text>
<text x="1252.8" y="94.37" class="al">s__Parabacteroides_goldsteiniiDSM19448_WAL12034</text>
<text x="1252.8" y="113.16" class="al">f__Tannerellaceae</text>
<text x="1252.8" y="131.95" class="al">g__Parabacteroides</text>
<text x="1252.8" y="150.74" class="al">f__Muribaculaceae</text>
<text x="1252.8" y="169.52" class="al">s__Duncaniella_dubosii</text>
<text x="1252.8" y="188.31" class="al">g__Duncaniella</text>
<text x="1252.8" y="207.10" class="al">s__Eubacterium_oxidoreducens</text>
<text x="1252.8" y="225.89" class="al">g__Blautia</text>
<text x="1252.8" y="244.68" class="al">g__Sporofaciens</text>
<text x="1252.8" y="263.46" class="al">s__Sporofaciens_musculi</text>
<text x="1252.8" y="282.25" class="al">s__Blautia_productaATCC27340_DSM2950</text>
<text x="1252.8" y="301.04" class="al">s__Roseburia_faecis</text>
<text x="1252.8" y="319.83" class="al">g__Ligilactobacillus</text>
<text x="1252.8" y="338.62" class="al">s__Ligilactobacillus_murinus</text>
<text x="1252.8" y="357.40" class="al">g__Velocimicrobium</text>
<text x="1252.8" y="376.19" class="al">s__Velocimicrobium_porci</text>
<text x="1252.8" y="394.98" class="al">g__Roseburia</text>
<text x="1252.8" y="413.77" class="al">s__Acetivibrio_ethanolgignens</text>
<text x="1252.8" y="432.55" class="al">s__Eisenbergiella_massiliensis</text>
<text x="1252.8" y="451.34" class="al">g__Fusimonas</text>
<text x="1252.8" y="470.13" class="al">s__Fusimonas_intestini</text>
<text x="1252.8" y="488.92" class="al">s__Blautia_pseudococcoides</text>
<text x="1252.8" y="507.71" class="al">s__Duncaniella_freteri</text>
<text x="1252.8" y="526.49" class="al">g__Guopingia</text>
<text x="1252.8" y="545.28" class="al">s__Guopingia_tenuis</text>
<text x="1252.8" y="564.07" class="al">g__Dehalobacterium</text>
<text x="1252.8" y="582.86" class="al">s__Dehalobacterium_formicoaceticum</text>
<text x="1252.8" y="601.64" class="al">g__Faecalimonas</text>
<text x="1252.8" y="620.43" class="al">s__Faecalimonas_umbilicata</text>
<text x="1252.8" y="639.22" class="al">g__Erysipelatoclostridium</text>
<text x="1252.8" y="658.01" class="al">s__Erysipelatoclostridium_Clostridiumspiroforme</text>
<text x="1252.8" y="676.80" class="al">g__Schaedlerella</text>
<text x="1252.8" y="695.58" class="al">s__Schaedlerella_arabinosiphila</text>
<text x="1252.8" y="714.37" class="al">s__Blautia_glucerasea</text>
<text x="1252.8" y="733.16" class="al">g__Anaerotaenia</text>
<text x="1252.8" y="751.95" class="al">s__Anaerotaenia_torta</text>
<text x="1252.8" y="770.74" class="al">s__Spiroplasma_eriocheirisCCTCCM207170</text>
<text x="1252.8" y="789.52" class="al">s__Turicibacter_sanguinis</text>
<text x="1252.8" y="808.31" class="al">f__Turicibacteraceae</text>
<text x="1252.8" y="827.10" class="al">g__Turicibacter</text>
<text x="1252.8" y="845.89" class="al">s__Eubacterium_xylanophilum</text>
<text x="1252.8" y="864.68" class="al">g__Konateibacter</text>
<text x="1252.8" y="883.46" class="al">s__Konateibacter_massiliensis</text>
<text x="1252.8" y="902.25" class="al">s__Mucispirillum_schaedleri</text>
<text x="1252.8" y="921.04" class="al">p__Deferribacteres</text>
<text x="1252.8" y="939.83" class="al">o__Deferribacterales</text>
<text x="1252.8" y="958.61" class="al">g__Mucispirillum</text>
<text x="1252.8" y="977.40" class="al">c__Deferribacteres</text>
<text x="1252.8" y="996.19" class="al">f__Mucispirillaceae</text>
<text x="1252.8" y="1014.98" class="al">g__Oscillibacter</text>
<text x="1252.8" y="1033.77" class="al">s__Oscillibacter_valericigenes</text>
<text x="1252.8" y="1052.55" class="al">g__Anaerostipes</text>
<text x="1252.8" y="1071.34" class="al">s__Anaerostipes_hadrus</text>
<text x="1252.8" y="1090.13" class="al">s__Intestinimonas_timonensis</text>
<text x="1252.8" y="1108.92" class="al">g__Lawsonibacter</text>
<text x="1252.8" y="1127.70" class="al">s__Lawsonibacter_asaccharolyticus</text>
<text transform="translate(1145.2,1143.5) rotate(45)" class="bcol">Control</text>
<text transform="translate(1183.2,1143.5) rotate(45)" class="bcol">DSS</text>
<text transform="translate(1221.4,1143.5) rotate(45)" class="bcol">DSS.Cedrol</text>
</g>
<path d="M1133.4,108.1V126.9M1133.4,108.1H1134.5M1133.4,126.9H1134.5M1132.2,89.4V117.5M1132.2,89.4H1134.5M1132.2,117.5H1133.4M1130.6,70.6V103.4M1130.6,70.6H1134.5M1130.6,103.4H1132.2M1132.6,145.7V164.4M1132.6,145.7H1134.5M1132.6,164.4H1134.5M1132.6,183.2V202.0M1132.6,183.2H1134.5M1132.6,202.0H1134.5M1128.7,155.1V192.6M1128.7,155.1H1132.6M1128.7,192.6H1132.6M1121.8,87.0V173.8M1121.8,87.0H1130.6M1121.8,173.8H1128.7M1133.4,239.5V258.3M1133.4,239.5H1134.5M1133.4,258.3H1134.5M1128.7,220.7V248.9M1128.7,220.7H1134.5M1128.7,248.9H1133.4M1133.8,277.1V295.8M1133.8,277.1H1134.5M1133.8,295.8H1134.5M1133.8,314.6V333.4M1133.8,314.6H1134.5M1133.8,333.4H1134.5M1133.8,352.1V370.9M1133.8,352.1H1134.5M1133.8,370.9H1134.5M1133.8,389.7V408.4M1133.8,389.7H1134.5M1133.8,408.4H1134.5M1133.2,286.4V324.0M1133.2,286.4H1133.8M1133.2,324.0H1133.8M1133.2,361.5V399.1M1133.2,361.5H1133.8M1133.2,399.1H1133.8M1132.4,305.2V380.3M1132.4,305.2H1133.2M1132.4,380.3H1133.2M1133.6,446.0V464.8M1133.6,446.0H1134.5M1133.6,464.8H1134.5M1133.6,483.5V502.3M1133.6,483.5H1134.5M1133.6,502.3H1134.5M1132.8,455.4V492.9M1132.8,455.4H1133.6M1132.8,492.9H1133.6M1130.1,427.2V474.1M1130.1,427.2H1134.5M1130.1,474.1H1132.8M1123.2,342.8V450.7M1123.2,342.8H1132.4M1123.2,450.7H1130.1M1110.7,234.8V396.7M1110.7,234.8H1128.7M1110.7,396.7H1123.2M1097.5,130.4V315.8M1097.5,130.4H1121.8M1097.5,315.8H1110.7M1133.0,521.1V539.8M1133.0,521.1H1134.5M1133.0,539.8H1134.5M1133.5,558.6V577.4M1133.5,558.6H1134.5M1133.5,577.4H1134.5M1133.6,596.1V614.9M1133.6,596.1H1134.5M1133.6,614.9H1134.5M1133.5,633.7V652.5M1133.5,633.7H1134.5M1133.5,652.5H1134.5M1132.6,605.5V643.1M1132.6,605.5H1133.6M1132.6,643.1H1133.5M1131.4,568.0V624.3M1131.4,568.0H1133.5M1131.4,624.3H1132.6M1133.4,671.2V690.0M1133.4,671.2H1134.5M1133.4,690.0H1134.5M1133.4,727.5V746.3M1133.4,727.5H1134.5M1133.4,746.3H1134.5M1130.8,708.8V736.9M1130.8,708.8H1134.5M1130.8,736.9H1133.4M1126.0,680.6V722.8M1126.0,680.6H1133.4M1126.0,722.8H1130.8M1106.5,596.1V701.7M1106.5,596.1H1131.4M1106.5,701.7H1126.0M1081.5,530.5V648.9M1081.5,530.5H1133.0M1081.5,648.9H1106.5M1133.4,783.8V802.6M1133.4,783.8H1134.5M1133.4,802.6H1134.5M1132.6,793.2V821.4M1132.6,793.2H1133.4M1132.6,821.4H1134.5M1129.9,765.1V807.3M1129.9,765.1H1134.5M1129.9,807.3H1132.6M1133.3,858.9V877.7M1133.3,858.9H1134.5M1133.3,877.7H1134.5M1133.8,896.5V915.2M1133.8,896.5H1134.5M1133.8,915.2H1134.5M1133.8,934.0V952.8M1133.8,934.0H1134.5M1133.8,952.8H1134.5M1133.8,971.5V990.3M1133.8,971.5H1134.5M1133.8,990.3H1134.5M1133.8,1009.1V1027.9M1133.8,1009.1H1134.5M1133.8,1027.9H1134.5M1133.3,905.9V943.4M1133.3,905.9H1133.8M1133.3,943.4H1133.8M1133.3,980.9V1018.5M1133.3,980.9H1133.8M1133.3,1018.5H1133.8M1132.6,924.6V999.7M1132.6,924.6H1133.3M1132.6,999.7H1133.3M1128.7,868.3V962.2M1128.7,868.3H1133.3M1128.7,962.2H1132.6M1123.5,840.2V915.2M1123.5,840.2H1134.5M1123.5,915.2H1128.7M1133.0,1046.6V1065.4M1133.0,1046.6H1134.5M1133.0,1065.4H1134.5M1133.2,1102.9V1121.7M1133.2,1102.9H1134.5M1133.2,1121.7H1134.5M1126.0,1084.2V1112.3M1126.0,1084.2H1134.5M1126.0,1112.3H1133.2M1117.5,1056.0V1098.2M1117.5,1056.0H1133.0M1117.5,1098.2H1126.0M1101.2,877.7V1077.1M1101.2,877.7H1123.5M1101.2,1077.1H1117.5M1079.4,786.2V977.4M1079.4,786.2H1129.9M1079.4,977.4H1101.2M1044.6,589.7V881.8M1044.6,589.7H1081.5M1044.6,881.8H1079.4M1043.6,223.1V735.7M1043.6,223.1H1097.5M1043.6,735.7H1044.6" fill="none" stroke="#a8a8a8" stroke-width="1.1"/>
<defs><linearGradient id="rdylbu" x1="0" y1="1" x2="0" y2="0">
<stop offset="0.000" stop-color="#313695"/>
<stop offset="0.100" stop-color="#4575B4"/>
<stop offset="0.200" stop-color="#74ADD1"/>
<stop offset="0.300" stop-color="#ABD9E9"/>
<stop offset="0.400" stop-color="#E0F3F8"/>
<stop offset="0.500" stop-color="#FFFFBF"/>
<stop offset="0.600" stop-color="#FEE090"/>
<stop offset="0.700" stop-color="#FDAE61"/>
<stop offset="0.800" stop-color="#F46D43"/>
<stop offset="0.900" stop-color="#D73027"/>
<stop offset="1.000" stop-color="#A50026"/>
</linearGradient></defs>
<rect x="1634.6" y="43" width="12.1" height="188.2" fill="url(#rdylbu)"/>
<text x="1653" y="60.5" class="bleg">1</text>
<text x="1653" y="101.1" class="bleg">0.5</text>
<text x="1653" y="141.7" class="bleg">0</text>
<text x="1653" y="182.3" class="bleg">-0.5</text>
<text x="1653" y="222.9" class="bleg">-1</text>
<text x="1679" y="51" class="bgrp2">Group</text>
<rect x="1679" y="56.8" width="16.8" height="17.05" fill="#00008B"/>
<text x="1700.6" y="69.1" class="bleg2">Control</text>
<rect x="1679" y="73.8" width="16.8" height="17.05" fill="#FF7F00"/>
<text x="1700.6" y="86.1" class="bleg2">DSS</text>
<rect x="1679" y="90.8" width="16.8" height="17.05" fill="#458B74"/>
<text x="1700.6" y="103.1" class="bleg2">DSS.Cedrol</text>
<text x="12.5" y="50" class="plet">A</text>
<text x="944" y="50" class="plet">B</text>
<text x="10.5" y="1248.6" class="plet">C</text>
<g id="legC">
<rect x="1134.9" y="1414.9" width="15.8" height="17.45" fill="#00008B"/>
<text x="1157.2" y="1426.5" class="cleg">Control</text>
<rect x="1134.9" y="1432.3" width="15.8" height="17.45" fill="#FF7F00"/>
<text x="1157.2" y="1443.9" class="cleg">DSS</text>
<rect x="1134.9" y="1449.7" width="15.8" height="17.45" fill="#458B74"/>
<text x="1157.2" y="1461.3" class="cleg">DSS.Cedrol</text>
<rect x="1138.9" y="1499.1" width="8.9" height="8.6" fill="#FF7F00"/>
<text x="1157.2" y="1506.5" class="cleg">ab: o__Deferribacterales</text>
<rect x="1138.9" y="1516.5" width="8.9" height="8.6" fill="#00008B"/>
<text x="1157.2" y="1523.9" class="cleg">ac: f__Muribaculaceae</text>
<rect x="1138.9" y="1533.9" width="8.9" height="8.6" fill="#FF7F00"/>
<text x="1157.2" y="1541.3" class="cleg">ad: f__Mucispirillaceae</text>
<rect x="1138.9" y="1551.3" width="8.9" height="8.6" fill="#00008B"/>
<text x="1157.2" y="1558.7" class="cleg">ae: f__Tannerellaceae</text>
<rect x="1138.9" y="1568.7" width="8.9" height="8.6" fill="#FF7F00"/>
<text x="1157.2" y="1576.1" class="cleg">af: f__Turicibacteraceae</text>
<rect x="1138.9" y="1586.1" width="8.9" height="8.6" fill="#458B74"/>
<text x="1157.2" y="1593.5" class="cleg">ag: g__Anaerotaenia</text>
<rect x="1138.9" y="1603.4" width="8.9" height="8.6" fill="#00008B"/>
<text x="1157.2" y="1610.8" class="cleg">ah: g__Duncaniella</text>
<rect x="1138.9" y="1620.8" width="8.9" height="8.6" fill="#FF7F00"/>
<text x="1157.2" y="1628.2" class="cleg">ai: g__Anaerostipes</text>
<rect x="1138.9" y="1638.2" width="8.9" height="8.6" fill="#00008B"/>
<text x="1157.2" y="1645.6" class="cleg">aj: g__Fusimonas</text>
<rect x="1138.9" y="1655.6" width="8.9" height="8.6" fill="#FF7F00"/>
<text x="1157.2" y="1663.0" class="cleg">ak: g__Oscillibacter</text>
<rect x="1138.9" y="1673.0" width="8.9" height="8.6" fill="#FF7F00"/>
<text x="1157.2" y="1680.4" class="cleg">al: g__Lawsonibacter</text>
<rect x="1138.9" y="1690.4" width="8.9" height="8.6" fill="#FF7F00"/>
<text x="1157.2" y="1697.8" class="cleg">am: g__Konateibacter</text>
<rect x="1138.9" y="1707.8" width="8.9" height="8.6" fill="#FF7F00"/>
<text x="1157.2" y="1715.2" class="cleg">an: g__Mucispirillum</text>
<rect x="1138.9" y="1725.2" width="8.9" height="8.6" fill="#00008B"/>
<text x="1157.2" y="1732.6" class="cleg">ao: g__Velocimicrobium</text>
<rect x="1138.9" y="1742.6" width="8.9" height="8.6" fill="#458B74"/>
<text x="1157.2" y="1750.0" class="cleg">ap: g__Erysipelatoclostridium</text>
<rect x="1138.9" y="1760.0" width="8.9" height="8.6" fill="#00008B"/>
<text x="1157.2" y="1767.3" class="cleg">aq: g__Parabacteroides</text>
<rect x="1138.9" y="1777.3" width="8.9" height="8.6" fill="#458B74"/>
<text x="1157.2" y="1784.7" class="cleg">ar: g__Schaedlerella</text>
<rect x="1138.9" y="1794.7" width="8.9" height="8.6" fill="#458B74"/>
<text x="1157.2" y="1802.1" class="cleg">as: g__Faecalimonas</text>
<rect x="1283.5" y="1499.1" width="8.9" height="8.6" fill="#00008B"/>
<text x="1301.8" y="1506.5" class="cleg">at: g__Roseburia</text>
<rect x="1283.5" y="1516.5" width="8.9" height="8.6" fill="#00008B"/>
<text x="1301.8" y="1523.9" class="cleg">au: g__Ligilactobacillus</text>
<rect x="1283.5" y="1533.9" width="8.9" height="8.6" fill="#00008B"/>
<text x="1301.8" y="1541.3" class="cleg">av: g__Blautia</text>
<rect x="1283.5" y="1551.3" width="8.9" height="8.6" fill="#00008B"/>
<text x="1301.8" y="1558.7" class="cleg">aw: g__Sporofaciens</text>
<rect x="1283.5" y="1568.7" width="8.9" height="8.6" fill="#458B74"/>
<text x="1301.8" y="1576.1" class="cleg">ax: g__Dehalobacterium</text>
<rect x="1283.5" y="1586.1" width="8.9" height="8.6" fill="#458B74"/>
<text x="1301.8" y="1593.5" class="cleg">ay: g__Guopingia</text>
<rect x="1283.5" y="1603.4" width="8.9" height="8.6" fill="#FF7F00"/>
<text x="1301.8" y="1610.8" class="cleg">az: g__Turicibacter</text>
<rect x="1283.5" y="1620.8" width="8.9" height="8.6" fill="#458B74"/>
<text x="1301.8" y="1628.2" class="cleg">bc: s__Anaerotaenia_torta</text>
<rect x="1283.5" y="1638.2" width="8.9" height="8.6" fill="#00008B"/>
<text x="1301.8" y="1645.6" class="cleg">bd: s__Duncaniella_freteri</text>
<rect x="1283.5" y="1655.6" width="8.9" height="8.6" fill="#FF7F00"/>
<text x="1301.8" y="1663.0" class="cleg">be: s__Anaerostipes_hadrus</text>
<rect x="1283.5" y="1673.0" width="8.9" height="8.6" fill="#00008B"/>
<text x="1301.8" y="1680.4" class="cleg">bf: s__Eisenbergiella_massiliensis</text>
<rect x="1283.5" y="1690.4" width="8.9" height="8.6" fill="#00008B"/>
<text x="1301.8" y="1697.8" class="cleg">bg: s__Fusimonas_intestini</text>
<rect x="1283.5" y="1707.8" width="8.9" height="8.6" fill="#FF7F00"/>
<text x="1301.8" y="1715.2" class="cleg">bh: s__Oscillibacter_valericigenes</text>
<rect x="1283.5" y="1725.2" width="8.9" height="8.6" fill="#FF7F00"/>
<text x="1301.8" y="1732.6" class="cleg">bi: s__Lawsonibacter_asaccharolyticus</text>
<rect x="1283.5" y="1742.6" width="8.9" height="8.6" fill="#00008B"/>
<text x="1301.8" y="1750.0" class="cleg">bj: s__Duncaniella_dubosii</text>
<rect x="1283.5" y="1760.0" width="8.9" height="8.6" fill="#FF7F00"/>
<text x="1301.8" y="1767.3" class="cleg">bk: s__Konateibacter_massiliensis</text>
<rect x="1283.5" y="1777.3" width="8.9" height="8.6" fill="#FF7F00"/>
<text x="1301.8" y="1784.7" class="cleg">bl: s__Mucispirillum_schaedleri</text>
<rect x="1283.5" y="1794.7" width="8.9" height="8.6" fill="#00008B"/>
<text x="1301.8" y="1802.1" class="cleg">bm: s__Velocimicrobium_porci</text>
<rect x="1465.3" y="1499.1" width="8.9" height="8.6" fill="#458B74"/>
<text x="1483.2" y="1506.5" class="cleg">bn: s__Erysipelatoclostridium_Clostridiumspiroforme</text>
<rect x="1465.3" y="1516.5" width="8.9" height="8.6" fill="#00008B"/>
<text x="1483.2" y="1523.9" class="cleg">bo: s__Parabacteroides_goldsteiniiDSM19448_WAL12034</text>
<rect x="1465.3" y="1533.9" width="8.9" height="8.6" fill="#458B74"/>
<text x="1483.2" y="1541.3" class="cleg">bp: s__Schaedlerella_arabinosiphila</text>
<rect x="1465.3" y="1551.3" width="8.9" height="8.6" fill="#458B74"/>
<text x="1483.2" y="1558.7" class="cleg">bq: s__Faecalimonas_umbilicata</text>
<rect x="1465.3" y="1568.7" width="8.9" height="8.6" fill="#FF7F00"/>
<text x="1483.2" y="1576.1" class="cleg">br: s__Spiroplasma_eriocheirisCCTCCM207170</text>
<rect x="1465.3" y="1586.1" width="8.9" height="8.6" fill="#00008B"/>
<text x="1483.2" y="1593.5" class="cleg">bs: s__Roseburia_faecis</text>
<rect x="1465.3" y="1603.4" width="8.9" height="8.6" fill="#00008B"/>
<text x="1483.2" y="1610.8" class="cleg">bt: s__Ligilactobacillus_murinus</text>
<rect x="1465.3" y="1620.8" width="8.9" height="8.6" fill="#00008B"/>
<text x="1483.2" y="1628.2" class="cleg">bu: s__Sporofaciens_musculi</text>
<rect x="1465.3" y="1638.2" width="8.9" height="8.6" fill="#458B74"/>
<text x="1483.2" y="1645.6" class="cleg">bv: s__Dehalobacterium_formicoaceticum</text>
<rect x="1465.3" y="1655.6" width="8.9" height="8.6" fill="#458B74"/>
<text x="1483.2" y="1663.0" class="cleg">bw: s__Guopingia_tenuis</text>
<rect x="1465.3" y="1673.0" width="8.9" height="8.6" fill="#FF7F00"/>
<text x="1483.2" y="1680.4" class="cleg">bx: s__Turicibacter_sanguinis</text>
<rect x="1465.3" y="1690.4" width="8.9" height="8.6" fill="#00008B"/>
<text x="1483.2" y="1697.8" class="cleg">by: s__Blautia_pseudococcoides</text>
<rect x="1465.3" y="1707.8" width="8.9" height="8.6" fill="#FF7F00"/>
<text x="1483.2" y="1715.2" class="cleg">bz: s__Intestinimonas_timonensis</text>
<rect x="1465.3" y="1725.2" width="8.9" height="8.6" fill="#00008B"/>
<text x="1483.2" y="1732.6" class="cleg">cd: s__Blautia_productaATCC27340_DSM2950</text>
<rect x="1465.3" y="1742.6" width="8.9" height="8.6" fill="#458B74"/>
<text x="1483.2" y="1750.0" class="cleg">ce: s__Blautia_glucerasea</text>
<rect x="1465.3" y="1760.0" width="8.9" height="8.6" fill="#00008B"/>
<text x="1483.2" y="1767.3" class="cleg">cf: s__Acetivibrio_ethanolgignens</text>
<rect x="1465.3" y="1777.3" width="8.9" height="8.6" fill="#00008B"/>
<text x="1483.2" y="1784.7" class="cleg">cg: s__Lactobacillus_intestinalis</text>
</g>
<g id="clado" transform="translate(609.90,1607.90) scale(1.0035,0.9895) translate(-609.90,-1607.90)">
<path d="M677.66,1602.14L1008.46,1574.00A400.00,400.00 0 0 1 1009.51,1590.18L677.83,1604.89A68.00,68.00 0 0 0 677.66,1602.14Z" fill="#FF7F00" fill-opacity="0.2"/>
<path d="M722.49,1598.32L992.52,1575.36A384.00,384.00 0 0 1 993.52,1590.89L722.79,1602.89A113.00,113.00 0 0 0 722.49,1598.32Z" fill="#FF7F00" fill-opacity="0.2"/>
<path d="M767.33,1594.51L972.59,1577.05A364.00,364.00 0 0 1 973.54,1591.78L767.74,1600.90A158.00,158.00 0 0 0 767.33,1594.51Z" fill="#FF7F00" fill-opacity="0.2"/>
<path d="M812.17,1590.70L955.65,1578.49A347.00,347.00 0 0 1 956.56,1592.53L812.70,1598.91A203.00,203.00 0 0 0 812.17,1590.70Z" fill="#FF7F00" fill-opacity="0.2"/>
<path d="M792.72,1519.66L922.40,1457.07A347.00,347.00 0 0 1 928.26,1469.86L796.15,1527.14A203.00,203.00 0 0 0 792.72,1519.66Z" fill="#00008B" fill-opacity="0.2"/>
<path d="M780.66,1498.14L901.80,1420.27A347.00,347.00 0 0 1 922.40,1457.07L792.72,1519.66A203.00,203.00 0 0 0 780.66,1498.14Z" fill="#00008B" fill-opacity="0.2"/>
<path d="M687.35,1420.26L742.29,1287.15A347.00,347.00 0 0 1 767.83,1298.92L702.29,1427.15A203.00,203.00 0 0 0 687.35,1420.26Z" fill="#FF7F00" fill-opacity="0.2"/>
<path d="M857.01,1586.88L939.21,1579.89A330.50,330.50 0 0 1 940.08,1593.26L857.66,1596.92A248.00,248.00 0 0 0 857.01,1586.88Z" fill="#FF7F00" fill-opacity="0.2"/>
<path d="M833.25,1500.10L907.54,1464.24A330.50,330.50 0 0 1 913.12,1476.42L837.43,1509.24A248.00,248.00 0 0 0 833.25,1500.10Z" fill="#00008B" fill-opacity="0.2"/>
<path d="M818.52,1473.80L887.92,1429.19A330.50,330.50 0 0 1 901.48,1452.30L828.69,1491.14A248.00,248.00 0 0 0 818.52,1473.80Z" fill="#00008B" fill-opacity="0.2"/>
<path d="M740.29,1396.94L783.66,1326.77A330.50,330.50 0 0 1 794.91,1334.04L748.73,1402.40A248.00,248.00 0 0 0 740.29,1396.94Z" fill="#00008B" fill-opacity="0.2"/>
<path d="M704.52,1378.66L736.00,1302.40A330.50,330.50 0 0 1 760.33,1313.62L722.78,1387.08A248.00,248.00 0 0 0 704.52,1378.66Z" fill="#FF7F00" fill-opacity="0.2"/>
<path d="M666.27,1366.39L685.03,1286.05A330.50,330.50 0 0 1 710.84,1293.19L685.65,1371.75A248.00,248.00 0 0 0 666.27,1366.39Z" fill="#458B74" fill-opacity="0.2"/>
<path d="M606.45,1359.92L605.30,1277.43A330.50,330.50 0 0 1 618.70,1277.52L616.50,1359.99A248.00,248.00 0 0 0 606.45,1359.92Z" fill="#458B74" fill-opacity="0.2"/>
<path d="M537.16,1370.81L512.97,1291.93A330.50,330.50 0 0 1 525.85,1288.27L546.83,1368.05A248.00,248.00 0 0 0 537.16,1370.81Z" fill="#458B74" fill-opacity="0.2"/>
<path d="M370.22,1544.21L290.48,1523.03A330.50,330.50 0 0 1 294.19,1510.15L373.00,1534.55A248.00,248.00 0 0 0 370.22,1544.21Z" fill="#FF7F00" fill-opacity="0.2"/>
<path d="M384.42,1711.15L309.41,1745.50A330.50,330.50 0 0 1 299.25,1720.71L376.79,1692.55A248.00,248.00 0 0 0 384.42,1711.15Z" fill="#FF7F00" fill-opacity="0.2"/>
<path d="M501.52,1830.97L465.47,1905.17A330.50,330.50 0 0 1 453.54,1899.07L492.57,1826.39A248.00,248.00 0 0 0 501.52,1830.97Z" fill="#458B74" fill-opacity="0.2"/>
<path d="M538.96,1845.54L515.36,1924.59A330.50,330.50 0 0 1 502.60,1920.50L529.38,1842.47A248.00,248.00 0 0 0 538.96,1845.54Z" fill="#458B74" fill-opacity="0.2"/>
<path d="M548.64,1848.22L528.27,1928.16A330.50,330.50 0 0 1 515.36,1924.59L538.96,1845.54A248.00,248.00 0 0 0 548.64,1848.22Z" fill="#00008B" fill-opacity="0.2"/>
<path d="M588.24,1854.95L581.04,1937.14A330.50,330.50 0 0 1 567.72,1935.70L578.25,1853.87A248.00,248.00 0 0 0 588.24,1854.95Z" fill="#FF7F00" fill-opacity="0.2"/>
<path d="M668.09,1848.98L687.45,1929.17A330.50,330.50 0 0 1 674.37,1932.05L658.28,1851.14A248.00,248.00 0 0 0 668.09,1848.98Z" fill="#458B74" fill-opacity="0.2"/>
<path d="M677.82,1846.42L700.41,1925.77A330.50,330.50 0 0 1 687.45,1929.17L668.09,1848.98A248.00,248.00 0 0 0 677.82,1846.42Z" fill="#00008B" fill-opacity="0.2"/>
<path d="M696.91,1840.14L725.85,1917.39A330.50,330.50 0 0 1 713.22,1921.84L687.43,1843.47A248.00,248.00 0 0 0 696.91,1840.14Z" fill="#00008B" fill-opacity="0.2"/>
<path d="M724.44,1827.87L762.54,1901.04A330.50,330.50 0 0 1 738.30,1912.44L706.25,1836.42A248.00,248.00 0 0 0 724.44,1827.87Z" fill="#FF7F00" fill-opacity="0.2"/>
<path d="M824.72,1731.82L896.19,1773.04A330.50,330.50 0 0 1 865.77,1817.09L801.90,1764.87A248.00,248.00 0 0 0 824.72,1731.82Z" fill="#00008B" fill-opacity="0.2"/>
<path d="M853.01,1656.91L933.88,1673.21A330.50,330.50 0 0 1 919.09,1724.65L841.91,1695.51A248.00,248.00 0 0 0 853.01,1656.91Z" fill="#00008B" fill-opacity="0.2"/>
<path d="M901.85,1583.07L932.24,1580.49A323.50,323.50 0 0 1 933.08,1593.57L902.61,1594.92A293.00,293.00 0 0 0 901.85,1583.07Z" fill="#FF7F00" fill-opacity="0.2"/>
<path d="M873.77,1480.54L901.24,1467.28A323.50,323.50 0 0 1 906.70,1479.21L878.72,1491.34A293.00,293.00 0 0 0 873.77,1480.54Z" fill="#00008B" fill-opacity="0.2"/>
<path d="M862.59,1459.59L888.90,1444.15A323.50,323.50 0 0 1 895.30,1455.59L868.39,1469.95A293.00,293.00 0 0 0 862.59,1459.59Z" fill="#00008B" fill-opacity="0.2"/>
<path d="M856.37,1449.47L882.03,1432.98A323.50,323.50 0 0 1 888.90,1444.15L862.59,1459.59A293.00,293.00 0 0 0 856.37,1449.47Z" fill="#00008B" fill-opacity="0.2"/>
<path d="M827.56,1411.76L850.22,1391.34A323.50,323.50 0 0 1 858.80,1401.26L835.33,1420.74A293.00,293.00 0 0 0 827.56,1411.76Z" fill="#FF7F00" fill-opacity="0.2"/>
<path d="M763.95,1358.66L779.98,1332.72A323.50,323.50 0 0 1 791.00,1339.84L773.92,1365.11A293.00,293.00 0 0 0 763.95,1358.66Z" fill="#00008B" fill-opacity="0.2"/>
<path d="M753.72,1352.63L768.69,1326.05A323.50,323.50 0 0 1 779.98,1332.72L763.95,1358.66A293.00,293.00 0 0 0 753.72,1352.63Z" fill="#00008B" fill-opacity="0.2"/>
<path d="M721.69,1337.06L733.33,1308.87A323.50,323.50 0 0 1 745.34,1314.12L732.57,1341.82A293.00,293.00 0 0 0 721.69,1337.06Z" fill="#FF7F00" fill-opacity="0.2"/>
<path d="M676.50,1322.57L683.43,1292.87A323.50,323.50 0 0 1 696.14,1296.11L688.01,1325.50A293.00,293.00 0 0 0 676.50,1322.57Z" fill="#458B74" fill-opacity="0.2"/>
<path d="M605.83,1314.93L605.40,1284.43A323.50,323.50 0 0 1 618.51,1284.51L617.70,1315.00A293.00,293.00 0 0 0 605.83,1314.93Z" fill="#458B74" fill-opacity="0.2"/>
<path d="M535.39,1324.53L527.63,1295.04A323.50,323.50 0 0 1 540.38,1291.96L546.93,1321.75A293.00,293.00 0 0 0 535.39,1324.53Z" fill="#FF7F00" fill-opacity="0.2"/>
<path d="M523.97,1327.78L515.02,1298.63A323.50,323.50 0 0 1 527.63,1295.04L535.39,1324.53A293.00,293.00 0 0 0 523.97,1327.78Z" fill="#458B74" fill-opacity="0.2"/>
<path d="M326.73,1532.66L297.25,1524.82A323.50,323.50 0 0 1 300.87,1512.22L330.01,1521.24A293.00,293.00 0 0 0 326.73,1532.66Z" fill="#FF7F00" fill-opacity="0.2"/>
<path d="M343.50,1729.89L315.77,1742.58A323.50,323.50 0 0 1 310.55,1730.55L338.78,1718.99A293.00,293.00 0 0 0 343.50,1729.89Z" fill="#FF7F00" fill-opacity="0.2"/>
<path d="M396.26,1808.41L374.02,1829.28A323.50,323.50 0 0 1 365.24,1819.54L388.31,1799.59A293.00,293.00 0 0 0 396.26,1808.41Z" fill="#00008B" fill-opacity="0.2"/>
<path d="M481.86,1871.44L468.53,1898.88A323.50,323.50 0 0 1 456.85,1892.91L471.28,1866.04A293.00,293.00 0 0 0 481.86,1871.44Z" fill="#458B74" fill-opacity="0.2"/>
<path d="M526.08,1888.66L517.36,1917.88A323.50,323.50 0 0 1 504.87,1913.88L514.77,1885.03A293.00,293.00 0 0 0 526.08,1888.66Z" fill="#458B74" fill-opacity="0.2"/>
<path d="M537.53,1891.82L530.00,1921.38A323.50,323.50 0 0 1 517.36,1917.88L526.08,1888.66A293.00,293.00 0 0 0 537.53,1891.82Z" fill="#00008B" fill-opacity="0.2"/>
<path d="M584.31,1899.78L581.65,1930.16A323.50,323.50 0 0 1 568.61,1928.75L572.51,1898.50A293.00,293.00 0 0 0 584.31,1899.78Z" fill="#FF7F00" fill-opacity="0.2"/>
<path d="M678.65,1892.72L685.81,1922.37A323.50,323.50 0 0 1 673.00,1925.19L667.05,1895.27A293.00,293.00 0 0 0 678.65,1892.72Z" fill="#458B74" fill-opacity="0.2"/>
<path d="M690.14,1889.70L698.49,1919.03A323.50,323.50 0 0 1 685.81,1922.37L678.65,1892.72A293.00,293.00 0 0 0 690.14,1889.70Z" fill="#00008B" fill-opacity="0.2"/>
<path d="M712.70,1882.28L723.40,1910.84A323.50,323.50 0 0 1 711.03,1915.19L701.49,1886.22A293.00,293.00 0 0 0 712.70,1882.28Z" fill="#00008B" fill-opacity="0.2"/>
<path d="M734.58,1873.05L747.56,1900.65A323.50,323.50 0 0 1 735.58,1905.99L723.73,1877.88A293.00,293.00 0 0 0 734.58,1873.05Z" fill="#FF7F00" fill-opacity="0.2"/>
<path d="M755.64,1862.08L770.81,1888.54A323.50,323.50 0 0 1 759.31,1894.83L745.22,1867.78A293.00,293.00 0 0 0 755.64,1862.08Z" fill="#00008B" fill-opacity="0.2"/>
<path d="M844.07,1784.01L868.44,1802.34A323.50,323.50 0 0 1 860.35,1812.66L836.74,1793.35A293.00,293.00 0 0 0 844.07,1784.01Z" fill="#458B74" fill-opacity="0.2"/>
<path d="M857.56,1764.47L883.34,1780.76A323.50,323.50 0 0 1 876.11,1791.70L851.01,1774.37A293.00,293.00 0 0 0 857.56,1764.47Z" fill="#00008B" fill-opacity="0.2"/>
<path d="M863.70,1754.30L890.12,1769.54A323.50,323.50 0 0 1 883.34,1780.76L857.56,1764.47A293.00,293.00 0 0 0 863.70,1754.30Z" fill="#00008B" fill-opacity="0.2"/>
<path d="M887.98,1700.21L916.92,1709.82A323.50,323.50 0 0 1 912.54,1722.18L884.01,1711.41A293.00,293.00 0 0 0 887.98,1700.21Z" fill="#00008B" fill-opacity="0.2"/>
<path d="M609.90,1607.90L651.01,1589.60M621.62,1564.45A45.00,45.00 0 0 1 654.81,1605.00M654.81,1605.00L699.71,1602.09M699.71,1602.09L744.62,1599.19M744.62,1599.19L789.52,1596.28M789.52,1596.28L834.43,1593.38M834.43,1593.38L879.34,1590.48M879.34,1590.48L924.24,1587.57M654.65,1603.18L699.40,1598.46M699.40,1598.46L744.15,1593.74M744.15,1593.74L788.91,1589.01M788.91,1589.01L833.66,1584.29M833.66,1584.29L878.41,1579.57M878.41,1579.57L923.16,1574.85M654.42,1601.37L698.95,1594.84M698.95,1594.84L743.47,1588.31M743.47,1588.31L787.99,1581.78M787.99,1581.78L832.52,1575.24M832.52,1575.24L877.04,1568.71M877.04,1568.71L921.56,1562.18M654.12,1599.57L698.34,1591.24M698.34,1591.24L742.57,1582.91M742.57,1582.91L786.79,1574.58M786.79,1574.58L831.01,1566.25M831.01,1566.25L875.23,1557.92M875.23,1557.92L919.46,1549.59M653.30,1596.02L826.91,1548.48M824.33,1539.73A225.00,225.00 0 0 1 829.14,1557.32M829.14,1557.32L916.84,1537.09M824.33,1539.73L867.21,1526.10M863.68,1515.74A270.00,270.00 0 0 1 870.31,1536.60M870.31,1536.60L913.72,1524.71M867.21,1526.10L910.10,1512.47M863.68,1515.74L905.98,1500.38M650.72,1588.95L691.53,1570.01M691.53,1570.01L732.35,1551.06M732.35,1551.06L773.17,1532.11M767.83,1521.55A180.00,180.00 0 0 1 776.46,1539.65M776.46,1539.65L818.10,1522.59M773.56,1532.96L814.47,1514.23M814.47,1514.23L855.39,1495.49M855.39,1495.49L896.30,1476.76M767.83,1521.55L807.32,1499.96M803.95,1494.01A225.00,225.00 0 0 1 810.51,1506.01M810.51,1506.01L850.63,1485.63M850.63,1485.63L890.75,1465.26M803.95,1494.01L842.76,1471.23M839.94,1466.54A270.00,270.00 0 0 1 845.48,1475.98M845.48,1475.98L884.74,1453.99M839.94,1466.54L878.28,1442.98M645.84,1580.82L681.78,1553.74M679.72,1551.12A90.00,90.00 0 0 1 681.78,1553.74M679.72,1551.12L714.64,1522.72M708.34,1515.51A135.00,135.00 0 0 1 720.41,1530.36M720.41,1530.36L757.25,1504.52M755.12,1501.55A180.00,180.00 0 0 1 759.31,1507.52M759.31,1507.52L871.37,1432.24M755.12,1501.55L791.43,1474.96M791.43,1474.96L827.73,1448.38M827.73,1448.38L864.04,1421.79M708.34,1515.51L741.15,1484.72M741.15,1484.72L773.96,1453.92M773.96,1453.92L806.77,1423.13M791.16,1407.79A270.00,270.00 0 0 1 821.09,1439.68M821.09,1439.68L856.29,1411.64M814.10,1431.26L848.13,1401.82M806.77,1423.13L839.59,1392.33M799.12,1415.30L830.66,1383.20M791.16,1407.79L821.37,1374.44M621.62,1564.45L633.35,1521.01M555.86,1535.93A90.00,90.00 0 0 1 662.71,1535.02M662.71,1535.02L689.12,1498.58M683.76,1494.90A135.00,135.00 0 0 1 694.28,1502.52M694.28,1502.52L722.41,1467.40M719.54,1465.15A180.00,180.00 0 0 1 725.24,1469.71M725.24,1469.71L811.74,1366.06M719.54,1465.15L801.77,1358.08M683.76,1494.90L708.39,1457.23M702.98,1453.83A180.00,180.00 0 0 1 713.67,1460.82M713.67,1460.82L739.61,1424.05M702.98,1453.83L726.25,1415.32M720.34,1411.87A225.00,225.00 0 0 1 732.05,1418.94M732.05,1418.94L756.48,1381.15M756.48,1381.15L780.91,1343.36M720.34,1411.87L742.43,1372.66M737.64,1370.03A270.00,270.00 0 0 1 747.17,1375.40M747.17,1375.40L770.05,1336.65M737.64,1370.03L758.93,1330.38M641.69,1523.70L657.59,1481.60M657.59,1481.60L673.49,1439.51M661.39,1435.42A180.00,180.00 0 0 1 685.26,1444.44M685.26,1444.44L704.10,1403.57M704.10,1403.57L722.95,1362.70M717.95,1360.46A270.00,270.00 0 0 1 727.89,1365.05M727.89,1365.05L747.56,1324.57M717.95,1360.46L735.96,1319.22M661.39,1435.42L674.26,1392.30M652.12,1386.90A225.00,225.00 0 0 1 691.51,1398.22M691.51,1398.22L707.84,1356.29M682.95,1395.09L697.56,1352.53M697.56,1352.53L712.17,1309.96M669.88,1391.04L681.88,1347.67M676.59,1346.27A270.00,270.00 0 0 1 687.14,1349.18M687.14,1349.18L700.01,1306.06M676.59,1346.27L687.70,1302.66M652.12,1386.90L660.57,1342.70M655.18,1341.72A270.00,270.00 0 0 1 665.93,1343.78M665.93,1343.78L675.27,1299.76M655.18,1341.72L662.73,1297.36M555.86,1535.93L528.84,1499.94M528.84,1499.94A135.00,135.00 0 0 1 529.22,1499.66M529.22,1499.66L502.33,1463.58M641.78,1785.06A180.00,180.00 0 1 1 632.87,1429.37M632.87,1429.37L650.10,1295.48M625.62,1428.59L629.55,1383.76M629.55,1383.76L633.48,1338.93M633.48,1338.93L637.41,1294.10M618.34,1428.10L620.45,1383.15M620.45,1383.15L622.56,1338.20M622.56,1338.20L624.67,1293.25M605.57,1427.95L604.49,1382.97M597.66,1383.23A225.00,225.00 0 0 1 611.33,1382.90M611.33,1382.90L611.62,1337.91M611.62,1337.91L611.90,1292.91M597.66,1383.23L595.21,1338.30M589.75,1338.65A270.00,270.00 0 0 1 600.67,1338.06M600.67,1338.06L599.14,1293.08M589.75,1338.65L586.39,1293.78M581.97,1430.08L574.99,1385.62M566.01,1387.22A225.00,225.00 0 0 1 584.03,1384.39M584.03,1384.39L573.68,1294.99M566.01,1387.22L557.23,1343.09M546.54,1345.44A270.00,270.00 0 0 1 568.01,1341.17M568.01,1341.17L561.03,1296.71M557.23,1343.09L548.46,1298.95M546.54,1345.44L535.99,1301.69M551.90,1437.50L537.40,1394.90M526.71,1398.85A225.00,225.00 0 0 1 548.28,1391.50M548.28,1391.50L535.96,1348.22M535.96,1348.22L523.64,1304.94M526.71,1398.85L510.07,1357.03M495.01,1363.56A270.00,270.00 0 0 1 525.50,1351.43M525.50,1351.43L511.43,1308.69M515.17,1355.06L499.39,1312.92M505.00,1359.11L487.52,1317.64M495.01,1363.56L475.86,1322.84M515.66,1454.54L492.10,1416.20M482.54,1422.41A225.00,225.00 0 0 1 501.96,1410.48M501.96,1410.48L480.37,1371.00M475.60,1373.67A270.00,270.00 0 0 1 485.20,1368.42M485.20,1368.42L464.42,1328.51M475.60,1373.67L453.21,1334.63M482.54,1422.41L457.07,1385.32M448.18,1391.69A270.00,270.00 0 0 1 466.22,1379.31M466.22,1379.31L442.27,1341.21M457.07,1385.32L431.60,1348.22M448.18,1391.69L421.22,1355.66M485.39,1477.91L454.27,1445.41M441.62,1458.55A225.00,225.00 0 0 1 467.94,1433.34M467.94,1433.34L411.15,1363.51M460.98,1439.23L401.41,1371.77M454.27,1445.41L423.14,1412.91M423.14,1412.91L392.02,1380.41M447.81,1451.85L382.98,1389.43M441.62,1458.55L374.31,1398.80M430.18,1597.85L385.25,1595.34M469.26,1783.53A225.00,225.00 0 0 1 435.71,1465.49M435.71,1465.49L366.03,1408.52M430.08,1472.66L394.11,1445.62M394.11,1445.62L358.15,1418.57M424.74,1480.06L387.71,1454.49M387.71,1454.49L350.68,1428.93M419.72,1487.67L381.68,1463.62M381.68,1463.62L343.64,1439.58M415.00,1495.48L376.02,1472.99M376.02,1472.99L337.04,1450.51M410.60,1503.47L330.89,1461.69M406.54,1511.63L325.19,1473.12M402.80,1519.95L319.96,1484.77M399.41,1528.42L315.21,1496.62M396.36,1537.01L310.94,1508.66M393.66,1545.72L350.41,1533.29M350.41,1533.29L307.17,1520.85M391.32,1554.54L303.89,1533.19M389.34,1563.44L301.11,1545.66M387.72,1572.41L298.84,1558.22M386.46,1581.45L297.08,1570.87M385.57,1590.52L295.84,1583.57M385.05,1599.63L295.11,1596.32M384.90,1608.75L339.90,1608.92M339.90,1608.92L294.90,1609.09M385.12,1617.87L295.21,1621.85M385.71,1626.97L296.03,1634.59M386.67,1636.04L297.37,1647.29M387.99,1645.06L299.23,1659.92M389.68,1654.02L301.59,1672.47M391.73,1662.91L304.46,1684.91M394.14,1671.71L307.83,1697.23M396.90,1680.40L354.30,1694.90M354.30,1694.90L311.70,1709.40M401.70,1693.21L360.06,1710.27M362.18,1715.31A270.00,270.00 0 0 1 358.04,1705.18M358.04,1705.18L316.06,1721.40M362.18,1715.31L320.90,1733.21M409.29,1709.79L369.17,1730.17M371.70,1735.02A270.00,270.00 0 0 1 366.74,1725.26M366.74,1725.26L326.21,1744.82M371.70,1735.02L332.00,1756.21M418.20,1725.70L379.86,1749.26M382.77,1753.89A270.00,270.00 0 0 1 377.04,1744.57M377.04,1744.57L338.24,1767.35M382.77,1753.89L344.92,1778.22M436.79,1751.62L402.16,1780.37M416.81,1796.62A270.00,270.00 0 0 1 388.88,1762.98M388.88,1762.98L352.04,1788.82M395.34,1771.81L359.58,1799.12M402.16,1780.37L367.54,1809.11M409.32,1788.64L375.89,1818.77M416.81,1796.62L384.63,1828.08M469.26,1783.53L441.13,1818.65M458.75,1831.63A270.00,270.00 0 0 1 424.62,1804.29M424.62,1804.29L393.74,1837.03M432.73,1811.64L403.20,1845.60M441.13,1818.65L413.00,1853.78M449.81,1825.32L423.13,1861.56M458.75,1831.63L433.56,1868.92M641.78,1785.06L649.74,1829.34M833.83,1629.82A225.00,225.00 0 0 1 491.60,1799.29M491.60,1799.29L467.95,1837.57M467.95,1837.57L444.29,1875.85M499.46,1803.93L455.28,1882.34M507.49,1808.24L487.01,1848.31M487.01,1848.31L466.53,1888.38M515.70,1812.23L478.01,1893.96M524.05,1815.88L489.72,1899.07M532.55,1819.19L501.61,1903.70M541.18,1822.15L527.43,1865.00M527.43,1865.00L513.69,1907.85M549.92,1824.76L537.92,1868.13M537.92,1868.13L525.93,1911.50M558.76,1827.01L538.30,1914.65M567.68,1828.90L550.79,1917.30M576.67,1830.43L570.02,1874.94M570.02,1874.94L563.38,1919.45M585.71,1831.60L580.88,1876.34M580.88,1876.34L576.04,1921.07M594.80,1832.39L588.76,1922.19M603.91,1832.82L601.51,1922.79M613.03,1832.88L614.28,1922.87M622.14,1832.57L627.04,1922.43M631.24,1831.89L639.77,1921.48M640.30,1830.84L652.46,1920.01M649.31,1829.42L665.07,1918.03M658.25,1827.64L667.92,1871.59M667.92,1871.59L677.59,1915.54M667.12,1825.50L678.56,1869.02M678.56,1869.02L690.01,1912.54M675.89,1823.01L702.29,1909.05M684.55,1820.15L699.48,1862.61M699.48,1862.61L714.41,1905.06M693.09,1816.95L709.73,1858.77M709.73,1858.77L726.37,1900.58M705.64,1811.51L724.79,1852.24M729.72,1849.86A270.00,270.00 0 0 1 719.82,1854.51M719.82,1854.51L738.14,1895.62M729.72,1849.86L749.69,1890.18M721.82,1803.09L744.20,1842.13M748.92,1839.36A270.00,270.00 0 0 1 739.43,1844.80M739.43,1844.80L761.01,1884.29M748.92,1839.36L772.09,1877.94M737.26,1793.39L762.73,1830.48M767.21,1827.34A270.00,270.00 0 0 1 758.19,1833.53M758.19,1833.53L782.90,1871.14M767.21,1827.34L793.43,1863.91M755.37,1779.55L784.46,1813.88M792.67,1806.64A270.00,270.00 0 0 1 775.97,1820.78M775.97,1820.78L803.65,1856.27M784.46,1813.88L813.56,1848.21M792.67,1806.64L823.13,1839.76M775.12,1760.63L808.16,1791.18M815.43,1783.00A270.00,270.00 0 0 1 800.57,1799.07M800.57,1799.07L832.35,1830.93M808.16,1791.18L841.21,1821.73M815.43,1783.00L849.68,1812.18M795.06,1735.74L832.09,1761.31M841.00,1747.52A270.00,270.00 0 0 1 822.35,1774.52M822.35,1774.52L857.76,1802.29M828.93,1765.78L865.44,1792.09M835.15,1756.77L872.69,1781.58M841.00,1747.52L879.51,1770.79M813.26,1704.17L853.94,1723.42M860.51,1708.38A270.00,270.00 0 0 1 846.47,1738.04M846.47,1738.04L885.89,1759.73M851.55,1728.35L891.82,1748.42M856.23,1718.45L897.28,1736.88M860.51,1708.38L902.27,1725.13M826.14,1670.08L869.39,1682.51M873.44,1666.61A270.00,270.00 0 0 1 864.37,1698.14M864.37,1698.14L906.78,1713.18M867.82,1687.76L910.81,1701.06M870.84,1677.24L914.34,1688.79M873.44,1666.61L917.36,1676.39M833.83,1629.82L878.62,1634.20M879.86,1612.35A270.00,270.00 0 0 1 875.60,1655.88M875.60,1655.88L919.89,1663.87M877.33,1645.07L921.90,1651.27M878.62,1634.20L923.40,1638.59M879.46,1623.29L924.39,1625.86M879.86,1612.35L924.86,1613.10" fill="none" stroke="#707070" stroke-width="0.95"/>
<circle cx="609.90" cy="1607.90" r="6.60" fill="#ffffff" stroke="#666666" stroke-width="1.0"/>
<circle cx="651.01" cy="1589.60" r="6.60" fill="#ffffff" stroke="#666666" stroke-width="1.0"/>
<circle cx="699.71" cy="1602.09" r="2.80" fill="#E58A2A" stroke="#7A4210" stroke-width="1.3"/>
<circle cx="744.62" cy="1599.19" r="2.80" fill="#E58A2A" stroke="#7A4210" stroke-width="1.3"/>
<circle cx="789.52" cy="1596.28" r="2.80" fill="#E58A2A" stroke="#7A4210" stroke-width="1.3"/>
<circle cx="834.43" cy="1593.38" r="2.80" fill="#E58A2A" stroke="#7A4210" stroke-width="1.3"/>
<circle cx="879.34" cy="1590.48" r="2.80" fill="#E58A2A" stroke="#7A4210" stroke-width="1.3"/>
<circle cx="924.24" cy="1587.57" r="2.80" fill="#E58A2A" stroke="#7A4210" stroke-width="1.3"/>
<circle cx="699.40" cy="1598.46" r="2.20" fill="#CBD5E0" stroke="#7C8CA2" stroke-width="0.9"/>
<circle cx="744.15" cy="1593.74" r="2.20" fill="#CBD5E0" stroke="#7C8CA2" stroke-width="0.9"/>
<circle cx="788.91" cy="1589.01" r="2.20" fill="#CBD5E0" stroke="#7C8CA2" stroke-width="0.9"/>
<circle cx="833.66" cy="1584.29" r="2.20" fill="#CBD5E0" stroke="#7C8CA2" stroke-width="0.9"/>
<circle cx="878.41" cy="1579.57" r="2.20" fill="#CBD5E0" stroke="#7C8CA2" stroke-width="0.9"/>
<circle cx="923.16" cy="1574.85" r="2.20" fill="#CBD5E0" stroke="#7C8CA2" stroke-width="0.9"/>
<circle cx="691.53" cy="1570.01" r="5.00" fill="#ffffff" stroke="#666666" stroke-width="1.0"/>
<circle cx="732.35" cy="1551.06" r="5.00" fill="#ffffff" stroke="#666666" stroke-width="1.0"/>
<circle cx="773.17" cy="1532.11" r="5.30" fill="#ffffff" stroke="#666666" stroke-width="1.0"/>
<circle cx="818.10" cy="1522.59" r="3.60" fill="#ffffff" stroke="#666666" stroke-width="1.0"/>
<circle cx="814.47" cy="1514.23" r="2.60" fill="#000080" stroke="#000040" stroke-width="0.6"/>
<circle cx="855.39" cy="1495.49" r="2.60" fill="#000080" stroke="#000040" stroke-width="0.6"/>
<circle cx="896.30" cy="1476.76" r="2.00" fill="#000080" stroke="#000040" stroke-width="0.6"/>
<circle cx="807.32" cy="1499.96" r="4.60" fill="#000080" stroke="#000040" stroke-width="0.6"/>
<circle cx="850.63" cy="1485.63" r="3.00" fill="#ffffff" stroke="#666666" stroke-width="1.0"/>
<circle cx="890.75" cy="1465.26" r="3.00" fill="#ffffff" stroke="#666666" stroke-width="1.0"/>
<circle cx="842.76" cy="1471.23" r="4.60" fill="#000080" stroke="#000040" stroke-width="0.6"/>
<circle cx="884.74" cy="1453.99" r="3.00" fill="#000080" stroke="#000040" stroke-width="0.6"/>
<circle cx="878.28" cy="1442.98" r="3.50" fill="#000080" stroke="#000040" stroke-width="0.6"/>
<circle cx="681.78" cy="1553.74" r="2.60" fill="#ffffff" stroke="#666666" stroke-width="1.0"/>
<circle cx="714.64" cy="1522.72" r="2.20" fill="#ffffff" stroke="#666666" stroke-width="1.0"/>
<circle cx="791.43" cy="1474.96" r="1.30" fill="#555555" stroke="#444444" stroke-width="0.6"/>
<circle cx="827.73" cy="1448.38" r="1.30" fill="#555555" stroke="#444444" stroke-width="0.6"/>
<circle cx="864.04" cy="1421.79" r="1.30" fill="#555555" stroke="#444444" stroke-width="0.6"/>
<circle cx="741.15" cy="1484.72" r="2.20" fill="#ffffff" stroke="#666666" stroke-width="1.0"/>
<circle cx="773.96" cy="1453.92" r="1.20" fill="#555555" stroke="#444444" stroke-width="0.6"/>
<circle cx="806.77" cy="1423.13" r="1.50" fill="#555555" stroke="#444444" stroke-width="0.6"/>
<circle cx="848.13" cy="1401.82" r="1.50" fill="#555555" stroke="#444444" stroke-width="0.6"/>
<circle cx="633.35" cy="1521.01" r="6.00" fill="#ffffff" stroke="#666666" stroke-width="1.0"/>
<circle cx="689.12" cy="1498.58" r="3.00" fill="#ffffff" stroke="#666666" stroke-width="1.0"/>
<circle cx="708.39" cy="1457.23" r="2.60" fill="#ffffff" stroke="#666666" stroke-width="1.0"/>
<circle cx="726.25" cy="1415.32" r="2.50" fill="#ffffff" stroke="#666666" stroke-width="1.0"/>
<circle cx="756.48" cy="1381.15" r="1.60" fill="#555555" stroke="#444444" stroke-width="0.6"/>
<circle cx="780.91" cy="1343.36" r="1.40" fill="#555555" stroke="#444444" stroke-width="0.6"/>
<circle cx="742.43" cy="1372.66" r="2.50" fill="#ffffff" stroke="#666666" stroke-width="1.0"/>
<circle cx="758.93" cy="1330.38" r="1.80" fill="#CBD5E0" stroke="#7C8CA2" stroke-width="0.9"/>
<circle cx="657.59" cy="1481.60" r="3.00" fill="#ffffff" stroke="#666666" stroke-width="1.0"/>
<circle cx="673.49" cy="1439.51" r="3.00" fill="#ffffff" stroke="#666666" stroke-width="1.0"/>
<circle cx="674.26" cy="1392.30" r="3.40" fill="#ffffff" stroke="#666666" stroke-width="1.0"/>
<circle cx="697.56" cy="1352.53" r="1.30" fill="#555555" stroke="#444444" stroke-width="0.6"/>
<circle cx="712.17" cy="1309.96" r="1.30" fill="#555555" stroke="#444444" stroke-width="0.6"/>
<circle cx="681.88" cy="1347.67" r="3.20" fill="#2F6B58" stroke="#1C4034" stroke-width="0.6"/>
<circle cx="687.70" cy="1302.66" r="2.60" fill="#2F6B58" stroke="#1C4034" stroke-width="0.6"/>
<circle cx="528.84" cy="1499.94" r="6.00" fill="#ffffff" stroke="#666666" stroke-width="1.0"/>
<circle cx="502.33" cy="1463.58" r="6.50" fill="#ffffff" stroke="#666666" stroke-width="1.0"/>
<circle cx="629.55" cy="1383.76" r="1.30" fill="#555555" stroke="#444444" stroke-width="0.6"/>
<circle cx="633.48" cy="1338.93" r="1.30" fill="#555555" stroke="#444444" stroke-width="0.6"/>
<circle cx="620.45" cy="1383.15" r="1.30" fill="#555555" stroke="#444444" stroke-width="0.6"/>
<circle cx="622.56" cy="1338.20" r="1.30" fill="#555555" stroke="#444444" stroke-width="0.6"/>
<circle cx="604.49" cy="1382.97" r="1.40" fill="#555555" stroke="#444444" stroke-width="0.6"/>
<circle cx="611.62" cy="1337.91" r="1.60" fill="#555555" stroke="#444444" stroke-width="0.6"/>
<circle cx="611.90" cy="1292.91" r="1.40" fill="#555555" stroke="#444444" stroke-width="0.6"/>
<circle cx="537.40" cy="1394.90" r="3.00" fill="#ffffff" stroke="#666666" stroke-width="1.0"/>
<circle cx="535.96" cy="1348.22" r="2.40" fill="#2F6B58" stroke="#1C4034" stroke-width="0.6"/>
<circle cx="523.64" cy="1304.94" r="2.20" fill="#2F6B58" stroke="#1C4034" stroke-width="0.6"/>
<circle cx="510.07" cy="1357.03" r="2.60" fill="#ffffff" stroke="#666666" stroke-width="1.0"/>
<circle cx="511.43" cy="1308.69" r="1.20" fill="#555555" stroke="#444444" stroke-width="0.6"/>
<circle cx="487.52" cy="1317.64" r="1.20" fill="#555555" stroke="#444444" stroke-width="0.6"/>
<circle cx="492.10" cy="1416.20" r="3.60" fill="#ffffff" stroke="#666666" stroke-width="1.0"/>
<circle cx="454.27" cy="1445.41" r="1.50" fill="#555555" stroke="#444444" stroke-width="0.6"/>
<circle cx="423.14" cy="1412.91" r="1.50" fill="#555555" stroke="#444444" stroke-width="0.6"/>
<circle cx="392.02" cy="1380.41" r="1.30" fill="#555555" stroke="#444444" stroke-width="0.6"/>
<circle cx="385.25" cy="1595.34" r="5.00" fill="#ffffff" stroke="#666666" stroke-width="1.0"/>
<circle cx="394.11" cy="1445.62" r="1.20" fill="#555555" stroke="#444444" stroke-width="0.6"/>
<circle cx="387.71" cy="1454.49" r="1.60" fill="#555555" stroke="#444444" stroke-width="0.6"/>
<circle cx="350.68" cy="1428.93" r="1.60" fill="#555555" stroke="#444444" stroke-width="0.6"/>
<circle cx="381.68" cy="1463.62" r="1.60" fill="#555555" stroke="#444444" stroke-width="0.6"/>
<circle cx="343.64" cy="1439.58" r="1.60" fill="#555555" stroke="#444444" stroke-width="0.6"/>
<circle cx="376.02" cy="1472.99" r="1.60" fill="#555555" stroke="#444444" stroke-width="0.6"/>
<circle cx="337.04" cy="1450.51" r="1.60" fill="#555555" stroke="#444444" stroke-width="0.6"/>
<circle cx="350.41" cy="1533.29" r="2.60" fill="#E58A2A" stroke="#7A4210" stroke-width="1.3"/>
<circle cx="307.17" cy="1520.85" r="2.60" fill="#E58A2A" stroke="#7A4210" stroke-width="1.3"/>
<circle cx="339.90" cy="1608.92" r="1.60" fill="#555555" stroke="#444444" stroke-width="0.6"/>
<circle cx="294.90" cy="1609.09" r="1.60" fill="#555555" stroke="#444444" stroke-width="0.6"/>
<circle cx="354.30" cy="1694.90" r="3.00" fill="#ffffff" stroke="#666666" stroke-width="1.0"/>
<circle cx="311.70" cy="1709.40" r="3.00" fill="#ffffff" stroke="#666666" stroke-width="1.0"/>
<circle cx="360.06" cy="1710.27" r="3.00" fill="#E58A2A" stroke="#7A4210" stroke-width="1.3"/>
<circle cx="316.06" cy="1721.40" r="2.00" fill="#ffffff" stroke="#666666" stroke-width="1.0"/>
<circle cx="320.90" cy="1733.21" r="3.60" fill="#E58A2A" stroke="#7A4210" stroke-width="1.3"/>
<circle cx="402.16" cy="1780.37" r="1.20" fill="#555555" stroke="#444444" stroke-width="0.6"/>
<circle cx="441.13" cy="1818.65" r="1.20" fill="#555555" stroke="#444444" stroke-width="0.6"/>
<circle cx="649.74" cy="1829.34" r="5.00" fill="#ffffff" stroke="#666666" stroke-width="1.0"/>
<circle cx="467.95" cy="1837.57" r="2.00" fill="#ffffff" stroke="#666666" stroke-width="1.0"/>
<circle cx="444.29" cy="1875.85" r="2.00" fill="#ffffff" stroke="#666666" stroke-width="1.0"/>
<circle cx="487.01" cy="1848.31" r="3.60" fill="#2F6B58" stroke="#1C4034" stroke-width="0.6"/>
<circle cx="466.53" cy="1888.38" r="2.60" fill="#2F6B58" stroke="#1C4034" stroke-width="0.6"/>
<circle cx="527.43" cy="1865.00" r="1.60" fill="#2F6B58" stroke="#1C4034" stroke-width="0.6"/>
<circle cx="513.69" cy="1907.85" r="1.40" fill="#2F6B58" stroke="#1C4034" stroke-width="0.6"/>
<circle cx="537.92" cy="1868.13" r="2.20" fill="#000080" stroke="#000040" stroke-width="0.6"/>
<circle cx="525.93" cy="1911.50" r="2.60" fill="#000080" stroke="#000040" stroke-width="0.6"/>
<circle cx="570.02" cy="1874.94" r="3.00" fill="#ffffff" stroke="#666666" stroke-width="1.0"/>
<circle cx="563.38" cy="1919.45" r="3.00" fill="#ffffff" stroke="#666666" stroke-width="1.0"/>
<circle cx="580.88" cy="1876.34" r="2.60" fill="#E58A2A" stroke="#7A4210" stroke-width="1.3"/>
<circle cx="576.04" cy="1921.07" r="2.60" fill="#E58A2A" stroke="#7A4210" stroke-width="1.3"/>
<circle cx="667.92" cy="1871.59" r="2.00" fill="#2F6B58" stroke="#1C4034" stroke-width="0.6"/>
<circle cx="677.59" cy="1915.54" r="1.20" fill="#2F6B58" stroke="#1C4034" stroke-width="0.6"/>
<circle cx="678.56" cy="1869.02" r="1.40" fill="#000080" stroke="#000040" stroke-width="0.6"/>
<circle cx="690.01" cy="1912.54" r="1.20" fill="#000080" stroke="#000040" stroke-width="0.6"/>
<circle cx="699.48" cy="1862.61" r="1.60" fill="#000080" stroke="#000040" stroke-width="0.6"/>
<circle cx="714.41" cy="1905.06" r="1.20" fill="#000080" stroke="#000040" stroke-width="0.6"/>
<circle cx="709.73" cy="1858.77" r="2.60" fill="#ffffff" stroke="#666666" stroke-width="1.0"/>
<circle cx="726.37" cy="1900.58" r="2.60" fill="#ffffff" stroke="#666666" stroke-width="1.0"/>
<circle cx="724.79" cy="1852.24" r="2.60" fill="#E58A2A" stroke="#7A4210" stroke-width="1.3"/>
<circle cx="738.14" cy="1895.62" r="3.00" fill="#E58A2A" stroke="#7A4210" stroke-width="1.3"/>
<circle cx="744.20" cy="1842.13" r="3.00" fill="#ffffff" stroke="#666666" stroke-width="1.0"/>
<circle cx="761.01" cy="1884.29" r="3.20" fill="#000080" stroke="#000040" stroke-width="0.6"/>
<circle cx="772.09" cy="1877.94" r="1.60" fill="#ffffff" stroke="#666666" stroke-width="1.0"/>
<circle cx="784.46" cy="1813.88" r="1.40" fill="#555555" stroke="#444444" stroke-width="0.6"/>
<circle cx="803.65" cy="1856.27" r="1.30" fill="#555555" stroke="#444444" stroke-width="0.6"/>
<circle cx="832.09" cy="1761.31" r="1.30" fill="#555555" stroke="#444444" stroke-width="0.6"/>
<circle cx="853.94" cy="1723.42" r="1.20" fill="#555555" stroke="#444444" stroke-width="0.6"/>
<circle cx="869.39" cy="1682.51" r="1.30" fill="#555555" stroke="#444444" stroke-width="0.6"/>
<circle cx="878.62" cy="1634.20" r="1.40" fill="#555555" stroke="#444444" stroke-width="0.6"/>
<circle cx="919.89" cy="1663.87" r="1.30" fill="#555555" stroke="#444444" stroke-width="0.6"/>
<text transform="translate(1008.57,1582.12) rotate(86.3)" text-anchor="middle" class="clab">p__Deferribacteres</text>
<text transform="translate(986.61,1583.54) rotate(86.3)" text-anchor="middle" class="clab">c__Deferribacteres</text>
<text transform="translate(965.66,1584.89) rotate(86.3)" text-anchor="middle" class="cnl">ab</text>
<text transform="translate(949.19,1585.96) rotate(86.3)" text-anchor="middle" class="cnl">ad</text>
<text transform="translate(935.72,1586.83) rotate(86.3)" text-anchor="middle" class="cnl">an</text>
<text transform="translate(926.74,1587.41) rotate(86.3)" text-anchor="middle" class="cnl">bl</text>
<text transform="translate(919.03,1466.35) rotate(65.4)" text-anchor="middle" class="cnl">ae</text>
<text transform="translate(906.76,1471.97) rotate(65.4)" text-anchor="middle" class="cnl">aq</text>
<text transform="translate(898.58,1475.71) rotate(65.4)" text-anchor="middle" class="cnl">bo</text>
<text transform="translate(906.55,1441.78) rotate(60.8)" text-anchor="middle" class="cnl">ac</text>
<text transform="translate(891.48,1442.63) rotate(59.6)" text-anchor="middle" class="cnl">ah</text>
<text transform="translate(886.92,1452.77) rotate(60.8)" text-anchor="middle" class="cnl">bj</text>
<text transform="translate(880.41,1441.67) rotate(58.4)" text-anchor="middle" class="cnl">bd</text>
<text transform="translate(850.02,1400.18) rotate(49.1)" text-anchor="middle" class="cnl">br</text>
<text transform="translate(787.15,1333.70) rotate(32.9)" text-anchor="middle" class="cnl">au</text>
<text transform="translate(782.27,1341.26) rotate(32.9)" text-anchor="middle" class="cnl">bt</text>
<text transform="translate(771.32,1334.50) rotate(30.6)" text-anchor="middle" class="cnl">cg</text>
<text transform="translate(752.25,1299.14) rotate(24.8)" text-anchor="middle" class="cnl">af</text>
<text transform="translate(746.60,1311.40) rotate(24.8)" text-anchor="middle" class="cnl">az</text>
<text transform="translate(736.96,1316.93) rotate(23.6)" text-anchor="middle" class="cnl">bx</text>
<text transform="translate(696.94,1293.22) rotate(15.5)" text-anchor="middle" class="cnl">ap</text>
<text transform="translate(688.32,1300.24) rotate(14.3)" text-anchor="middle" class="cnl">bn</text>
<text transform="translate(611.98,1281.41) rotate(0.4)" text-anchor="middle" class="cnl">ax</text>
<text transform="translate(611.92,1290.41) rotate(0.4)" text-anchor="middle" class="cnl">bv</text>
<text transform="translate(535.40,1299.26) rotate(-13.6)" text-anchor="middle" class="cnl">bz</text>
<text transform="translate(520.49,1293.88) rotate(-15.9)" text-anchor="middle" class="cnl">ay</text>
<text transform="translate(522.95,1302.54) rotate(-15.9)" text-anchor="middle" class="cnl">bw</text>
<text transform="translate(296.11,1517.67) rotate(-74.0)" text-anchor="middle" class="cnl">al</text>
<text transform="translate(304.76,1520.16) rotate(-74.0)" text-anchor="middle" class="cnl">bi</text>
<text transform="translate(307.78,1731.69) rotate(67.7)" text-anchor="middle" class="cnl">ak</text>
<text transform="translate(318.61,1734.21) rotate(66.6)" text-anchor="middle" class="cnl">bh</text>
<text transform="translate(374.04,1820.44) rotate(48.0)" text-anchor="middle" class="cnl">cf</text>
<text transform="translate(461.30,1898.62) rotate(27.1)" text-anchor="middle" class="cnl">ag</text>
<text transform="translate(465.39,1890.61) rotate(27.1)" text-anchor="middle" class="cnl">bc</text>
<text transform="translate(510.18,1918.80) rotate(17.8)" text-anchor="middle" class="cnl">as</text>
<text transform="translate(512.93,1910.23) rotate(17.8)" text-anchor="middle" class="cnl">bq</text>
<text transform="translate(522.86,1922.58) rotate(15.5)" text-anchor="middle" class="cnl">aj</text>
<text transform="translate(525.26,1913.91) rotate(15.5)" text-anchor="middle" class="cnl">bg</text>
<text transform="translate(574.80,1932.51) rotate(6.2)" text-anchor="middle" class="cnl">am</text>
<text transform="translate(575.77,1923.56) rotate(6.2)" text-anchor="middle" class="cnl">bk</text>
<text transform="translate(680.06,1926.77) rotate(-12.4)" text-anchor="middle" class="cnl">ar</text>
<text transform="translate(678.13,1917.98) rotate(-12.4)" text-anchor="middle" class="cnl">bp</text>
<text transform="translate(692.93,1923.67) rotate(-14.7)" text-anchor="middle" class="cnl">aw</text>
<text transform="translate(690.64,1914.96) rotate(-14.7)" text-anchor="middle" class="cnl">bu</text>
<text transform="translate(718.23,1915.90) rotate(-19.4)" text-anchor="middle" class="cnl">ao</text>
<text transform="translate(715.24,1907.41) rotate(-19.4)" text-anchor="middle" class="cnl">bm</text>
<text transform="translate(748.83,1903.37) rotate(-25.2)" text-anchor="middle" class="cnl">ai</text>
<text transform="translate(739.15,1897.90) rotate(-24.0)" text-anchor="middle" class="cnl">be</text>
<text transform="translate(762.21,1886.48) rotate(-28.7)" text-anchor="middle" class="cnl">bf</text>
<text transform="translate(878.58,1793.41) rotate(-55.4)" text-anchor="middle" class="cnl">av</text>
<text transform="translate(859.73,1803.84) rotate(-51.9)" text-anchor="middle" class="cnl">ce</text>
<text transform="translate(874.78,1782.96) rotate(-56.5)" text-anchor="middle" class="cnl">cd</text>
<text transform="translate(881.65,1772.08) rotate(-58.9)" text-anchor="middle" class="cnl">by</text>
<text transform="translate(923.69,1698.13) rotate(-74.0)" text-anchor="middle" class="cnl">at</text>
<text transform="translate(909.14,1714.02) rotate(-70.5)" text-anchor="middle" class="cnl">bs</text>
</g>
</svg></div></body></html>
